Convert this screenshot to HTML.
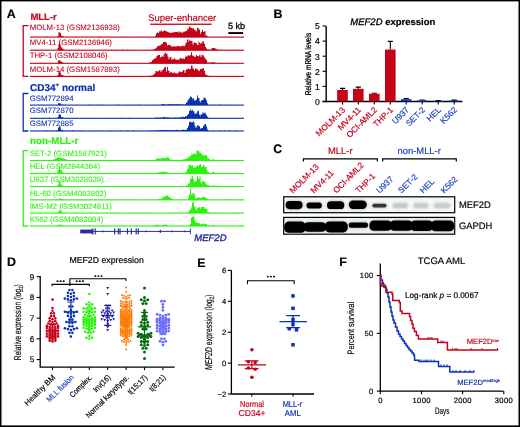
<!DOCTYPE html>
<html><head><meta charset="utf-8"><style>
html,body{margin:0;padding:0;background:#fff;}
svg{display:block;font-family:"Liberation Sans", sans-serif;will-change:transform;text-rendering:geometricPrecision;}
</style></head><body>
<svg width="520" height="427" viewBox="0 0 520 427" font-family='"Liberation Sans", sans-serif'>
<rect x="0" y="0" width="520" height="427" fill="#000"/>
<rect x="1.5" y="1.4" width="517" height="424" fill="#fff"/>
<text x="6.8" y="17.8" font-size="12.4" fill="#000" stroke="#000" stroke-width="0.18" font-weight="bold" font-style="normal" text-anchor="start" >A</text>
<text x="30.4" y="20.4" font-size="9.5" fill="#c5021a" stroke="#c5021a" stroke-width="0.18" font-weight="bold" font-style="normal" text-anchor="start" >MLL-r</text>
<text x="30.0" y="91.0" font-size="10" fill="#0b30b0" stroke="#0b30b0" stroke-width="0.18" font-weight="bold" font-style="normal" text-anchor="start" >CD34<tspan font-size="6.2" dy="-3.6">+</tspan><tspan dy="3.6"> normal</tspan></text>
<text x="30.0" y="143.9" font-size="9.8" fill="#2cf210" stroke="#2cf210" stroke-width="0.18" font-weight="bold" font-style="normal" text-anchor="start" >non-MLL-r</text>
<path d="M30,37.1 H30.0 V37.03 H30.5 V37.04 H31.5 V37.08 H32.5 V36.99 H34.0 V36.71 H35.0 V36.97 H36.0 V37.02 H37.0 V36.75 H38.0 V37.03 H39.0 V37.07 H39.5 V37.06 H40.5 V37.07 H41.5 V37.09 H43.0 V37.08 H44.0 V37.07 H45.0 V37.00 H45.5 V37.00 H46.0 V36.67 H47.0 V36.75 H48.0 V36.98 H48.5 V37.05 H49.5 V37.02 H51.0 V37.08 H52.0 V36.96 H52.5 V37.04 H53.5 V37.00 H54.5 V36.96 H55.0 V36.92 H55.5 V36.71 H56.5 V36.98 H57.5 V36.21 H58.5 V32.21 H60.0 V33.05 H61.0 V35.86 H62.5 V36.34 H63.0 V36.55 H64.0 V37.00 H65.5 V37.05 H66.5 V36.98 H68.0 V37.02 H69.5 V37.06 H70.5 V37.02 H71.0 V37.05 H72.5 V37.00 H73.5 V37.09 H74.5 V37.07 H75.0 V36.83 H76.5 V37.08 H77.5 V36.98 H78.5 V37.04 H79.5 V37.01 H81.0 V36.94 H82.0 V36.83 H82.5 V37.02 H84.0 V37.00 H84.5 V36.94 H85.0 V37.02 H86.5 V37.06 H87.5 V37.07 H89.0 V37.06 H90.5 V37.05 H91.5 V37.09 H93.0 V37.05 H94.0 V36.98 H95.0 V37.01 H95.5 V36.95 H96.5 V36.92 H97.5 V37.02 H98.5 V36.85 H99.5 V36.76 H100.0 V36.84 H101.5 V37.00 H103.0 V36.95 H103.5 V37.00 H104.5 V37.02 H105.5 V36.94 H106.0 V36.81 H107.5 V36.74 H108.5 V37.10 H109.5 V36.90 H110.5 V36.68 H111.5 V37.03 H113.0 V37.08 H114.5 V37.06 H116.0 V37.06 H117.5 V36.71 H118.5 V36.98 H119.5 V36.98 H120.5 V36.67 H121.0 V37.02 H122.0 V37.06 H123.0 V36.76 H123.5 V37.01 H124.0 V36.74 H125.0 V37.06 H126.5 V36.70 H127.0 V36.81 H128.5 V37.05 H130.0 V36.91 H130.5 V37.04 H131.5 V36.69 H132.0 V37.04 H133.5 V36.98 H134.0 V37.09 H135.5 V36.69 H137.0 V37.07 H138.0 V37.03 H139.0 V36.73 H139.5 V37.05 H140.0 V37.06 H141.0 V37.08 H142.5 V36.67 H143.5 V36.99 H144.5 V37.01 H146.0 V37.09 H147.0 V37.01 H147.5 V36.93 H148.5 V37.01 H149.0 V36.99 H150.0 V36.93 H151.0 V37.08 H152.5 V37.04 H154.0 V37.08 H155.0 V35.81 H156.0 V33.84 H156.5 V32.98 H157.0 V31.88 H157.5 V33.02 H159.0 V31.09 H159.5 V31.69 H160.5 V30.29 H161.5 V30.94 H162.0 V31.69 H163.0 V31.01 H164.0 V30.53 H165.5 V30.88 H166.5 V31.63 H168.0 V32.30 H169.0 V32.47 H169.5 V32.84 H170.0 V32.70 H171.5 V32.87 H172.0 V32.57 H173.5 V32.24 H175.0 V31.98 H176.0 V32.02 H177.5 V31.55 H178.5 V32.85 H179.5 V31.56 H180.5 V32.34 H181.5 V32.66 H182.5 V32.39 H183.0 V32.25 H183.5 V31.51 H184.0 V31.96 H184.5 V31.25 H186.0 V30.82 H187.0 V30.29 H187.5 V28.58 H189.0 V26.53 H190.5 V28.11 H192.0 V28.60 H193.5 V28.06 H194.0 V29.79 H195.5 V30.74 H196.5 V31.81 H197.0 V27.79 H198.0 V27.82 H198.5 V29.60 H200.0 V33.65 H201.0 V31.97 H202.0 V29.65 H203.0 V31.88 H204.0 V31.33 H205.5 V35.56 H207.0 V36.30 H208.0 V37.09 H209.5 V36.88 H210.5 V36.99 H212.0 V37.03 H213.0 V36.99 H213.5 V36.98 H214.5 V36.81 H215.0 V36.99 H216.0 V37.02 H217.0 V37.07 H218.5 V37.01 H219.5 V37.02 H220.5 V37.04 H221.0 V36.78 H222.0 V36.99 H222.5 V36.88 H223.5 V37.04 H224.5 V36.87 H226.0 V37.01 H227.5 V36.77 H228.5 V36.78 H229.5 V37.04 H230.5 V36.70 H231.5 V36.99 H232.5 V36.99 H234.0 V37.04 H234.5 V37.09 H235.5 V36.80 H236.0 V36.99 H237.0 V37.00 H238.5 V37.09 H239.0 V37.04 H240.5 V37.03 H241.5 V37.04 H242.5 V36.70 H243.5 V37.02 H244 V37.1 Z" fill="#c5021a"/>
<rect x="30" y="36.550000000000004" width="214" height="1.1" fill="#c5021a"/>
<text x="29.7" y="30.1" font-size="7.8" fill="#c5021a" stroke="#c5021a" stroke-width="0.08" font-weight="normal" font-style="normal" text-anchor="start" >MOLM-13 (GSM2136938)</text>
<path d="M30,50.2 H30.0 V50.10 H31.5 V50.10 H33.0 V49.97 H34.0 V50.06 H35.0 V50.09 H35.5 V50.15 H36.0 V50.13 H37.5 V50.10 H38.5 V50.11 H39.0 V50.11 H40.0 V50.10 H41.0 V50.14 H42.0 V50.17 H42.5 V50.16 H43.0 V50.20 H44.0 V50.10 H44.5 V50.19 H46.0 V49.78 H46.5 V50.08 H47.0 V50.13 H48.5 V50.17 H49.5 V50.19 H50.0 V50.19 H51.5 V50.20 H52.5 V50.18 H54.0 V50.18 H55.0 V50.15 H56.0 V50.17 H57.5 V47.66 H58.5 V44.22 H59.0 V43.10 H59.5 V41.29 H60.0 V44.34 H60.5 V45.87 H61.0 V47.59 H62.5 V49.01 H63.5 V49.50 H64.5 V50.15 H65.5 V50.15 H67.0 V49.97 H67.5 V49.88 H68.5 V50.09 H69.5 V50.12 H71.0 V49.98 H71.5 V49.79 H72.0 V50.19 H73.0 V50.19 H74.5 V49.96 H75.5 V50.14 H76.5 V50.12 H78.0 V50.09 H79.0 V50.12 H80.5 V49.91 H81.0 V50.06 H82.5 V50.19 H83.5 V50.09 H84.5 V50.09 H85.5 V49.99 H86.5 V50.15 H87.0 V50.13 H87.5 V50.19 H89.0 V49.91 H89.5 V50.11 H90.5 V50.12 H92.0 V50.10 H93.5 V50.14 H94.0 V50.14 H95.0 V50.19 H96.0 V50.19 H97.5 V49.92 H98.5 V50.16 H99.5 V50.17 H101.0 V50.18 H102.5 V50.11 H104.0 V50.15 H105.0 V50.14 H106.0 V50.10 H107.0 V50.17 H107.5 V49.99 H108.5 V50.15 H109.5 V50.11 H111.0 V49.83 H112.5 V50.20 H113.5 V50.16 H114.5 V50.15 H115.0 V49.83 H116.0 V50.10 H117.0 V50.12 H117.5 V50.12 H118.5 V50.17 H119.5 V50.14 H120.0 V50.08 H120.5 V50.09 H121.5 V49.84 H122.5 V49.78 H123.5 V50.00 H125.0 V49.94 H125.5 V50.12 H126.5 V49.81 H127.5 V49.80 H128.0 V50.14 H128.5 V49.88 H129.5 V50.16 H130.0 V50.01 H131.5 V50.20 H132.5 V50.20 H133.0 V50.09 H134.0 V49.97 H135.5 V50.14 H137.0 V50.15 H137.5 V50.13 H138.5 V50.10 H139.5 V50.03 H140.5 V50.14 H141.5 V50.18 H142.5 V50.13 H143.0 V50.19 H143.5 V50.08 H145.0 V50.12 H145.5 V50.14 H146.0 V49.99 H147.5 V49.79 H148.5 V50.19 H150.0 V50.09 H151.5 V50.08 H152.5 V50.10 H153.0 V49.54 H154.0 V49.10 H155.5 V47.94 H156.5 V47.55 H157.0 V46.15 H158.0 V45.79 H159.0 V45.83 H160.0 V45.36 H161.0 V44.24 H162.0 V43.74 H163.0 V41.90 H164.5 V41.73 H165.5 V41.73 H166.0 V42.99 H167.0 V45.52 H168.0 V45.01 H169.5 V44.67 H170.5 V46.22 H171.0 V46.12 H171.5 V46.43 H173.0 V46.21 H173.5 V46.66 H174.5 V45.97 H175.0 V46.42 H176.5 V46.13 H177.5 V46.09 H178.5 V46.11 H179.5 V46.77 H180.5 V45.64 H181.0 V46.31 H181.5 V46.08 H182.5 V45.70 H183.0 V46.84 H183.5 V44.91 H184.0 V46.64 H184.5 V45.24 H185.5 V42.76 H187.0 V39.44 H188.5 V41.90 H189.0 V40.54 H190.0 V40.75 H191.5 V41.08 H192.5 V44.52 H193.5 V42.51 H194.5 V42.73 H196.0 V43.36 H197.0 V45.07 H198.5 V40.81 H199.0 V42.57 H200.0 V43.50 H201.5 V42.51 H202.5 V41.21 H204.0 V43.70 H205.0 V47.07 H206.0 V48.61 H207.0 V49.41 H208.0 V49.48 H209.0 V49.59 H210.0 V49.72 H211.0 V49.48 H211.5 V48.26 H212.0 V47.73 H212.5 V48.08 H213.5 V48.05 H215.0 V48.43 H215.5 V48.87 H216.5 V49.46 H217.5 V49.86 H218.5 V50.16 H219.5 V50.16 H220.0 V50.13 H220.5 V49.85 H222.0 V49.79 H222.5 V50.14 H223.0 V50.14 H224.0 V50.16 H225.0 V50.00 H225.5 V50.10 H226.5 V50.17 H227.5 V49.83 H228.5 V50.02 H229.0 V50.11 H230.5 V50.14 H231.5 V49.86 H232.5 V50.17 H233.5 V50.13 H234.0 V50.10 H234.5 V50.16 H235.0 V50.08 H235.5 V50.19 H236.0 V49.83 H237.0 V50.10 H238.5 V50.15 H239.5 V50.16 H240.5 V50.14 H241.5 V50.09 H242.0 V50.08 H243.5 V50.10 H244 V50.2 Z" fill="#c5021a"/>
<rect x="30" y="49.650000000000006" width="214" height="1.1" fill="#c5021a"/>
<text x="29.7" y="44.9" font-size="7.8" fill="#c5021a" stroke="#c5021a" stroke-width="0.08" font-weight="normal" font-style="normal" text-anchor="start" >MV4-11 (GSM2136946)</text>
<path d="M30,63.3 H30.0 V63.06 H31.5 V63.30 H32.5 V63.22 H33.5 V63.23 H35.0 V63.28 H35.5 V63.15 H37.0 V62.93 H38.0 V63.20 H38.5 V63.29 H40.0 V63.22 H40.5 V62.86 H41.5 V63.11 H43.0 V63.19 H44.0 V63.19 H45.0 V63.29 H46.0 V63.24 H47.5 V63.22 H49.0 V63.18 H49.5 V63.14 H50.5 V63.29 H52.0 V63.13 H53.0 V62.93 H54.0 V63.29 H55.5 V63.21 H57.0 V63.27 H57.5 V62.82 H58.0 V60.57 H59.0 V60.19 H60.5 V61.69 H62.0 V62.28 H63.0 V62.95 H64.0 V63.20 H65.0 V63.30 H66.0 V63.25 H66.5 V63.24 H67.5 V63.19 H68.0 V63.27 H69.0 V63.26 H70.5 V63.28 H72.0 V63.29 H73.0 V63.24 H74.0 V63.27 H75.5 V63.30 H76.5 V63.28 H77.0 V63.27 H78.0 V63.29 H79.5 V63.25 H80.5 V63.21 H81.0 V63.22 H82.0 V63.30 H83.5 V63.20 H84.5 V63.24 H85.0 V63.21 H86.5 V62.88 H87.5 V63.29 H89.0 V63.29 H90.5 V62.99 H91.5 V63.21 H92.5 V63.21 H93.5 V63.29 H95.0 V63.24 H96.5 V63.26 H97.0 V63.29 H98.0 V63.14 H99.0 V63.22 H100.0 V62.89 H101.0 V63.09 H102.0 V63.21 H103.0 V63.27 H103.5 V63.25 H105.0 V63.23 H105.5 V62.97 H106.5 V63.19 H107.5 V63.09 H108.5 V63.28 H109.5 V62.88 H110.5 V62.91 H111.5 V63.18 H112.5 V63.23 H113.0 V63.23 H114.5 V62.95 H115.5 V63.12 H117.0 V63.21 H118.0 V63.18 H119.0 V63.22 H119.5 V63.19 H120.5 V63.26 H121.5 V63.20 H122.5 V62.94 H123.5 V62.98 H124.5 V63.18 H125.5 V63.30 H126.5 V63.08 H127.0 V63.24 H128.0 V63.24 H129.0 V63.22 H130.0 V63.19 H131.5 V63.27 H132.0 V63.20 H133.0 V63.22 H133.5 V63.18 H135.0 V63.20 H136.0 V63.20 H137.0 V63.27 H138.5 V63.30 H139.0 V63.23 H139.5 V63.24 H141.0 V63.23 H142.0 V63.25 H143.0 V63.18 H144.0 V63.24 H145.0 V63.22 H146.5 V63.24 H147.0 V63.04 H148.5 V62.64 H149.5 V62.37 H151.0 V61.94 H152.0 V60.23 H153.0 V59.60 H154.0 V58.79 H155.5 V57.84 H156.5 V56.08 H157.5 V54.92 H159.0 V54.99 H160.0 V57.26 H161.5 V55.72 H162.0 V55.94 H162.5 V56.92 H163.5 V54.80 H164.5 V52.77 H166.0 V53.81 H167.5 V56.85 H168.5 V59.21 H169.5 V57.36 H170.5 V57.26 H171.5 V60.12 H172.5 V58.56 H173.0 V59.24 H174.0 V58.56 H175.5 V59.99 H176.5 V59.50 H177.5 V59.39 H178.0 V59.86 H179.5 V58.51 H180.0 V57.65 H181.0 V58.72 H182.5 V58.44 H184.0 V59.01 H185.0 V56.80 H186.0 V56.58 H187.5 V55.57 H188.5 V55.14 H189.0 V55.82 H190.0 V55.02 H191.0 V52.30 H192.0 V55.60 H193.5 V56.50 H194.5 V56.73 H196.0 V54.89 H197.0 V55.91 H198.5 V56.72 H199.0 V55.42 H199.5 V54.68 H200.5 V56.91 H201.5 V55.35 H202.5 V54.77 H203.5 V56.38 H204.5 V58.12 H205.5 V59.83 H207.0 V62.39 H208.5 V62.84 H209.5 V62.79 H210.5 V62.53 H211.5 V62.49 H212.5 V62.10 H214.0 V62.52 H215.0 V62.85 H216.0 V63.22 H217.0 V63.09 H218.0 V63.28 H219.5 V63.24 H220.0 V62.86 H221.0 V63.18 H222.5 V63.23 H223.5 V63.12 H224.5 V63.23 H225.5 V63.30 H226.0 V63.22 H227.0 V63.22 H228.0 V62.97 H228.5 V63.23 H229.5 V63.19 H230.0 V63.20 H230.5 V63.19 H231.0 V63.18 H231.5 V63.26 H232.0 V63.26 H233.0 V63.29 H234.0 V63.20 H235.0 V63.25 H235.5 V63.17 H237.0 V63.29 H238.0 V63.15 H239.0 V63.24 H240.0 V63.26 H241.0 V63.10 H241.5 V63.20 H243.0 V63.21 H244 V63.3 Z" fill="#c5021a"/>
<rect x="30" y="62.75" width="214" height="1.1" fill="#c5021a"/>
<text x="29.7" y="57.9" font-size="7.8" fill="#c5021a" stroke="#c5021a" stroke-width="0.08" font-weight="normal" font-style="normal" text-anchor="start" >THP-1 (GSM2108046)</text>
<path d="M30,76.4 H30.0 V75.99 H31.0 V76.32 H32.0 V76.38 H33.0 V76.37 H33.5 V76.34 H34.5 V76.30 H35.0 V76.30 H35.5 V76.31 H36.5 V76.37 H37.5 V76.31 H38.5 V76.29 H40.0 V76.36 H41.0 V76.33 H42.0 V76.31 H43.0 V76.32 H44.0 V76.19 H45.0 V76.34 H46.0 V76.33 H47.5 V76.38 H48.5 V76.29 H50.0 V76.21 H51.5 V76.18 H52.0 V76.38 H53.5 V76.37 H55.0 V76.02 H56.0 V76.32 H57.0 V75.53 H58.0 V74.83 H58.5 V71.06 H59.5 V71.11 H60.5 V72.98 H61.0 V74.90 H61.5 V74.94 H62.5 V75.19 H63.5 V75.98 H64.5 V76.31 H66.0 V76.08 H66.5 V76.37 H67.5 V76.14 H68.5 V76.33 H69.5 V76.24 H71.0 V76.19 H71.5 V76.33 H72.0 V76.36 H72.5 V76.33 H74.0 V76.16 H75.0 V76.38 H76.0 V76.37 H77.0 V76.37 H78.0 V76.24 H79.0 V76.33 H80.5 V76.16 H82.0 V76.39 H83.0 V76.33 H84.0 V76.29 H85.0 V75.98 H86.0 V76.04 H86.5 V76.29 H87.5 V76.29 H88.5 V76.22 H90.0 V76.29 H90.5 V76.29 H91.0 V76.36 H92.0 V76.23 H93.0 V76.39 H93.5 V76.28 H94.5 V75.96 H96.0 V76.40 H97.0 V75.95 H97.5 V76.33 H99.0 V76.40 H100.0 V76.37 H100.5 V76.37 H101.5 V76.28 H102.5 V76.38 H104.0 V76.23 H105.5 V76.40 H107.0 V76.34 H107.5 V76.14 H108.5 V75.99 H109.5 V76.06 H110.0 V76.16 H111.5 V76.12 H112.5 V76.35 H113.0 V76.39 H114.0 V76.16 H114.5 V76.29 H115.0 V76.33 H116.0 V76.17 H117.5 V75.99 H118.0 V76.30 H119.5 V76.32 H120.5 V76.34 H121.0 V76.39 H122.0 V76.34 H123.0 V76.35 H124.5 V76.34 H126.0 V76.35 H126.5 V76.10 H127.5 V76.35 H128.5 V76.29 H129.0 V76.31 H130.0 V76.18 H131.5 V76.30 H132.0 V76.28 H133.0 V76.33 H134.0 V75.96 H134.5 V76.32 H135.0 V76.32 H135.5 V76.39 H136.5 V76.30 H137.5 V76.31 H138.5 V76.30 H139.0 V76.24 H140.0 V76.34 H140.5 V76.05 H141.5 V76.37 H142.5 V76.31 H143.5 V76.37 H145.0 V76.11 H146.0 V76.35 H147.0 V75.95 H148.0 V76.18 H149.0 V75.87 H149.5 V75.69 H151.0 V75.86 H152.5 V74.79 H154.0 V73.78 H155.0 V73.19 H155.5 V70.93 H157.0 V71.57 H158.0 V71.21 H159.0 V70.27 H160.5 V72.36 H161.5 V70.21 H163.0 V69.26 H164.0 V67.95 H164.5 V66.94 H166.0 V71.48 H167.0 V66.92 H168.0 V70.77 H169.5 V73.09 H170.5 V72.00 H172.0 V73.36 H173.5 V72.61 H175.0 V73.25 H176.5 V73.38 H178.0 V73.30 H178.5 V71.42 H179.5 V71.48 H180.5 V72.29 H181.5 V72.11 H182.5 V70.89 H183.0 V70.02 H184.5 V73.01 H185.5 V70.41 H186.0 V69.59 H186.5 V69.17 H188.0 V68.37 H189.0 V69.19 H189.5 V69.00 H191.0 V65.40 H192.5 V68.51 H194.0 V70.28 H195.0 V68.58 H196.0 V68.22 H196.5 V69.21 H197.5 V69.67 H198.5 V71.17 H199.0 V70.71 H200.0 V68.99 H201.0 V69.37 H201.5 V68.78 H202.5 V68.31 H204.0 V70.72 H205.0 V73.82 H205.5 V74.76 H207.0 V75.44 H208.5 V75.98 H209.5 V76.14 H211.0 V76.35 H212.0 V75.97 H213.0 V76.34 H213.5 V76.31 H214.0 V76.21 H215.5 V76.33 H217.0 V76.32 H218.0 V76.07 H219.0 V76.36 H220.5 V76.30 H221.5 V76.33 H222.5 V76.32 H224.0 V75.99 H224.5 V76.39 H225.5 V76.21 H226.5 V76.36 H228.0 V76.21 H229.0 V76.39 H230.0 V76.31 H231.0 V76.10 H232.0 V76.31 H233.0 V76.09 H234.0 V76.35 H235.5 V76.14 H237.0 V76.05 H238.0 V76.39 H239.5 V76.39 H240.5 V76.36 H241.0 V76.35 H242.5 V76.30 H243.5 V76.30 H244 V76.4 Z" fill="#c5021a"/>
<rect x="30" y="75.85000000000001" width="214" height="1.1" fill="#c5021a"/>
<text x="29.7" y="72.0" font-size="7.8" fill="#c5021a" stroke="#c5021a" stroke-width="0.08" font-weight="normal" font-style="normal" text-anchor="start" >MOLM-14 (GSM1587893)</text>
<path d="M30,105.1 H30.0 V104.81 H31.0 V105.03 H31.5 V104.92 H32.5 V104.96 H33.0 V105.08 H34.5 V105.06 H35.5 V105.08 H37.0 V105.06 H38.0 V104.76 H39.0 V105.08 H40.0 V105.07 H40.5 V105.07 H41.5 V104.74 H42.5 V104.79 H43.5 V105.05 H44.5 V105.07 H45.5 V104.92 H47.0 V104.98 H47.5 V105.05 H49.0 V105.05 H49.5 V105.09 H50.5 V104.81 H51.5 V105.05 H52.5 V105.01 H54.0 V105.08 H54.5 V105.10 H56.0 V104.98 H56.5 V105.01 H57.0 V105.08 H57.5 V104.38 H58.0 V103.18 H59.0 V103.02 H59.5 V103.20 H60.5 V104.35 H61.5 V104.54 H62.5 V104.73 H63.0 V104.86 H64.0 V105.07 H64.5 V104.66 H66.0 V104.99 H67.5 V104.89 H68.0 V105.04 H68.5 V105.08 H69.5 V104.98 H70.5 V105.10 H71.0 V105.05 H72.0 V105.06 H72.5 V105.00 H73.5 V105.05 H74.5 V105.10 H76.0 V104.71 H77.5 V105.01 H78.5 V105.06 H80.0 V105.06 H81.0 V105.06 H81.5 V105.03 H82.0 V105.10 H83.0 V105.03 H84.0 V105.05 H85.0 V105.02 H86.5 V105.02 H87.5 V105.01 H88.5 V104.77 H90.0 V105.00 H91.5 V104.72 H93.0 V105.02 H94.0 V105.02 H95.0 V105.02 H95.5 V105.00 H96.5 V105.02 H97.5 V104.70 H98.5 V105.08 H99.0 V104.75 H100.0 V104.98 H101.0 V104.65 H101.5 V105.08 H103.0 V104.71 H104.5 V105.08 H105.0 V105.05 H106.0 V105.02 H107.0 V105.08 H108.5 V105.01 H109.5 V105.00 H111.0 V105.09 H112.0 V105.00 H113.0 V105.00 H114.0 V104.98 H115.0 V104.87 H116.5 V105.06 H117.5 V104.95 H118.5 V104.87 H120.0 V105.08 H121.0 V104.97 H121.5 V105.09 H123.0 V104.99 H124.0 V104.99 H125.5 V105.08 H126.0 V105.09 H127.0 V104.67 H128.0 V104.85 H129.0 V105.01 H130.5 V105.05 H131.5 V104.70 H132.0 V104.96 H133.0 V104.99 H134.5 V105.06 H135.0 V105.01 H135.5 V104.81 H136.5 V105.09 H138.0 V104.68 H139.0 V104.76 H140.5 V105.00 H142.0 V104.90 H143.0 V105.09 H144.0 V105.08 H144.5 V104.97 H145.5 V105.00 H146.0 V105.02 H147.5 V105.03 H149.0 V104.68 H150.0 V105.06 H150.5 V105.03 H152.0 V104.70 H153.0 V105.08 H154.0 V105.08 H155.0 V105.09 H155.5 V104.99 H156.5 V104.76 H157.5 V105.09 H158.0 V104.97 H158.5 V105.01 H160.0 V104.93 H160.5 V104.76 H161.0 V104.39 H162.0 V104.27 H162.5 V103.94 H164.0 V104.36 H164.5 V104.45 H165.0 V104.47 H166.0 V104.63 H166.5 V104.47 H167.0 V104.48 H167.5 V104.14 H168.5 V104.30 H169.0 V104.18 H170.0 V104.12 H170.5 V104.36 H172.0 V104.30 H173.0 V104.37 H174.0 V104.41 H175.0 V104.37 H176.5 V104.17 H178.0 V104.21 H178.5 V104.34 H179.5 V104.13 H180.5 V104.38 H181.5 V104.72 H182.0 V104.62 H182.5 V104.20 H183.5 V104.39 H185.0 V104.14 H186.0 V102.52 H187.5 V100.18 H188.5 V98.84 H189.5 V98.04 H190.0 V95.69 H190.5 V96.95 H192.0 V99.13 H192.5 V98.35 H194.0 V100.55 H195.0 V100.35 H196.5 V98.97 H197.0 V95.59 H198.0 V97.89 H199.5 V101.21 H200.5 V103.12 H201.0 V100.60 H202.0 V100.04 H203.5 V97.52 H204.5 V98.37 H206.0 V100.51 H207.0 V103.37 H208.0 V104.77 H208.5 V104.86 H209.0 V105.00 H210.5 V104.80 H211.5 V105.07 H212.5 V105.07 H214.0 V104.81 H215.0 V105.09 H216.5 V105.05 H217.0 V105.04 H218.5 V104.87 H219.5 V104.66 H220.5 V105.07 H221.0 V104.70 H222.5 V105.08 H223.5 V105.05 H224.5 V104.91 H225.5 V104.71 H226.5 V104.99 H228.0 V104.69 H228.5 V105.04 H229.5 V104.73 H230.0 V104.99 H231.5 V105.02 H232.0 V105.09 H233.5 V105.08 H235.0 V105.01 H236.5 V104.70 H237.5 V105.06 H238.5 V105.01 H239.5 V105.00 H240.5 V105.08 H241.5 V104.66 H242.0 V105.01 H243.5 V105.04 H244 V105.1 Z" fill="#0b30b0"/>
<rect x="30" y="104.55" width="214" height="1.1" fill="#0b30b0"/>
<text x="29.7" y="100.6" font-size="7.8" fill="#0b30b0" stroke="#0b30b0" stroke-width="0.08" font-weight="normal" font-style="normal" text-anchor="start" >GSM772894</text>
<path d="M30,118.3 H30.0 V118.25 H31.0 V118.27 H32.0 V118.24 H33.5 V118.30 H34.5 V117.94 H36.0 V118.22 H37.0 V118.21 H38.5 V118.30 H40.0 V118.22 H41.0 V117.97 H42.0 V117.88 H42.5 V117.97 H44.0 V118.28 H45.5 V118.20 H46.0 V118.27 H46.5 V118.09 H47.0 V117.88 H48.5 V117.87 H50.0 V118.08 H51.5 V118.26 H52.5 V118.27 H54.0 V118.26 H55.0 V118.22 H55.5 V118.26 H56.5 V118.22 H57.5 V117.12 H58.5 V114.49 H59.5 V113.93 H60.0 V114.68 H61.0 V117.07 H62.5 V117.58 H63.5 V117.99 H64.5 V118.15 H66.0 V118.21 H67.0 V118.24 H68.5 V118.20 H70.0 V118.19 H71.0 V118.19 H72.5 V118.06 H74.0 V117.98 H75.0 V118.19 H76.5 V118.15 H77.0 V118.23 H78.0 V118.21 H79.0 V118.26 H80.0 V118.01 H80.5 V118.25 H81.5 V118.06 H82.5 V117.90 H83.5 V117.91 H84.5 V118.23 H85.5 V118.24 H86.0 V118.30 H86.5 V118.25 H88.0 V118.27 H89.0 V118.27 H90.0 V117.89 H91.0 V118.20 H92.0 V118.29 H93.5 V118.21 H94.0 V118.02 H95.0 V117.93 H96.0 V118.16 H97.0 V118.27 H98.5 V118.20 H99.0 V118.19 H100.5 V118.24 H102.0 V118.29 H103.5 V118.18 H105.0 V118.25 H106.5 V118.15 H107.5 V118.18 H108.5 V118.22 H109.0 V118.19 H110.0 V118.21 H111.5 V117.89 H112.5 V118.13 H114.0 V118.21 H114.5 V118.29 H116.0 V118.16 H117.0 V118.24 H118.5 V118.28 H119.0 V118.15 H120.5 V117.87 H121.5 V118.19 H122.5 V118.24 H123.5 V118.27 H124.5 V118.12 H126.0 V118.23 H127.5 V118.22 H128.5 V117.86 H129.5 V117.94 H130.5 V118.07 H131.5 V118.10 H132.0 V118.30 H133.5 V118.16 H134.5 V118.30 H136.0 V117.94 H137.0 V118.29 H138.5 V118.19 H139.5 V117.94 H140.5 V118.30 H142.0 V117.90 H142.5 V118.08 H143.5 V118.20 H145.0 V118.23 H146.0 V118.02 H147.0 V118.28 H147.5 V118.28 H148.0 V118.23 H149.0 V117.91 H150.5 V118.13 H152.0 V118.07 H153.0 V118.00 H154.0 V117.93 H154.5 V117.93 H155.0 V117.77 H156.0 V117.47 H157.5 V117.74 H158.0 V117.68 H159.0 V117.68 H159.5 V117.57 H161.0 V117.63 H161.5 V117.53 H162.5 V117.14 H163.5 V117.08 H165.0 V117.41 H166.0 V117.47 H167.0 V117.25 H168.0 V117.48 H169.0 V117.56 H170.5 V117.70 H171.5 V117.71 H172.5 V117.49 H173.0 V117.67 H174.5 V117.55 H175.5 V117.50 H177.0 V117.65 H177.5 V117.66 H178.0 V117.46 H179.5 V117.32 H180.5 V117.33 H181.0 V117.33 H182.5 V116.70 H184.0 V116.93 H185.0 V116.37 H186.5 V116.13 H187.0 V115.34 H187.5 V115.08 H188.0 V113.89 H189.0 V110.96 H190.0 V108.40 H190.5 V110.55 H191.5 V110.52 H192.5 V109.62 H193.0 V111.13 H194.5 V113.79 H195.0 V113.79 H196.5 V112.57 H197.5 V110.71 H199.0 V115.11 H199.5 V114.51 H200.5 V116.16 H201.0 V114.25 H202.0 V114.15 H202.5 V112.36 H203.5 V113.48 H204.0 V113.24 H204.5 V112.81 H205.5 V113.86 H206.0 V115.29 H207.0 V116.68 H208.0 V117.80 H209.0 V118.25 H210.5 V118.17 H211.5 V118.20 H212.0 V118.28 H213.0 V118.18 H214.0 V118.29 H215.5 V118.29 H217.0 V117.90 H218.5 V118.02 H219.5 V118.21 H220.5 V118.28 H221.0 V118.23 H221.5 V117.95 H222.5 V118.14 H224.0 V117.98 H225.5 V118.24 H226.5 V117.89 H227.5 V117.96 H228.5 V118.27 H229.0 V118.13 H230.0 V118.30 H231.0 V118.27 H232.0 V118.20 H233.0 V118.18 H234.0 V118.22 H235.5 V118.22 H236.5 V117.88 H238.0 V118.29 H239.0 V118.28 H239.5 V118.29 H240.0 V118.07 H241.0 V118.20 H242.0 V118.25 H243.0 V118.30 H243.5 V118.18 H244 V118.3 Z" fill="#0b30b0"/>
<rect x="30" y="117.75" width="214" height="1.1" fill="#0b30b0"/>
<text x="29.7" y="113.1" font-size="7.8" fill="#0b30b0" stroke="#0b30b0" stroke-width="0.08" font-weight="normal" font-style="normal" text-anchor="start" >GSM772870</text>
<path d="M30,131.0 H30.0 V130.72 H31.0 V130.95 H32.5 V130.99 H33.5 V130.96 H34.5 V130.92 H35.5 V130.99 H37.0 V130.96 H37.5 V130.95 H38.5 V130.93 H39.0 V130.82 H40.0 V130.88 H41.0 V130.96 H42.0 V130.97 H42.5 V130.95 H43.5 V130.83 H44.5 V130.73 H45.0 V130.89 H46.5 V130.55 H48.0 V130.65 H49.0 V130.89 H49.5 V130.99 H50.5 V130.75 H51.5 V130.59 H52.5 V130.99 H53.5 V130.92 H54.5 V130.99 H55.5 V130.90 H56.5 V130.36 H58.0 V127.56 H59.0 V126.18 H60.5 V128.64 H61.0 V130.28 H61.5 V130.08 H62.0 V130.08 H63.0 V130.51 H63.5 V130.76 H65.0 V130.93 H66.0 V130.99 H67.0 V130.83 H68.0 V130.66 H68.5 V130.69 H70.0 V130.97 H71.5 V130.58 H72.5 V130.57 H73.5 V130.78 H74.5 V130.78 H75.5 V130.65 H76.0 V130.88 H77.0 V130.95 H78.0 V130.61 H79.0 V130.93 H79.5 V130.64 H80.0 V130.62 H81.0 V130.88 H82.0 V130.64 H83.0 V130.90 H84.5 V130.96 H85.5 V130.70 H86.0 V130.99 H87.0 V130.98 H88.5 V130.84 H89.5 V130.91 H90.0 V130.77 H90.5 V130.90 H91.0 V130.89 H91.5 V130.89 H92.5 V130.94 H94.0 V130.70 H95.0 V130.90 H95.5 V131.00 H96.5 V130.58 H97.5 V130.89 H98.5 V130.80 H99.0 V130.98 H100.0 V130.96 H101.0 V130.76 H102.5 V130.94 H103.5 V130.97 H104.5 V130.91 H105.5 V130.97 H106.5 V130.99 H107.5 V130.93 H109.0 V130.85 H110.5 V130.70 H112.0 V130.94 H113.5 V130.90 H115.0 V130.87 H116.5 V130.99 H117.0 V130.99 H118.5 V130.97 H120.0 V130.59 H121.0 V130.93 H122.0 V130.96 H123.0 V130.91 H124.5 V130.95 H126.0 V130.61 H127.5 V130.76 H128.5 V130.93 H129.5 V130.97 H130.5 V130.96 H132.0 V130.97 H132.5 V130.57 H134.0 V130.73 H135.0 V130.99 H136.0 V130.95 H137.0 V130.93 H138.0 V130.58 H139.0 V130.97 H140.0 V130.98 H140.5 V130.92 H141.0 V130.96 H142.5 V130.92 H143.5 V130.96 H144.0 V130.94 H144.5 V130.96 H146.0 V130.99 H147.5 V130.74 H149.0 V130.59 H150.0 V130.80 H151.5 V130.83 H152.5 V130.77 H153.0 V130.78 H153.5 V130.57 H155.0 V130.52 H156.0 V130.24 H156.5 V130.53 H157.5 V130.48 H158.5 V130.27 H159.0 V130.35 H160.5 V130.31 H161.5 V130.22 H162.0 V130.12 H163.0 V130.19 H163.5 V130.25 H164.5 V130.09 H166.0 V130.10 H167.5 V130.26 H168.5 V130.17 H170.0 V130.29 H170.5 V130.31 H172.0 V130.39 H173.0 V130.03 H174.5 V130.33 H175.5 V130.24 H176.5 V129.87 H177.5 V130.22 H178.0 V130.15 H179.0 V130.14 H180.0 V130.39 H180.5 V130.01 H182.0 V129.75 H182.5 V129.82 H184.0 V129.92 H185.0 V129.92 H185.5 V129.49 H186.5 V129.71 H187.0 V127.98 H188.0 V125.63 H189.0 V121.93 H189.5 V121.59 H190.5 V122.17 H191.5 V122.15 H193.0 V120.38 H193.5 V122.29 H194.5 V125.74 H195.5 V128.17 H196.0 V127.28 H197.0 V125.19 H198.5 V126.35 H200.0 V128.49 H201.5 V127.97 H203.0 V125.83 H204.5 V123.93 H206.0 V125.23 H206.5 V127.02 H207.0 V128.50 H207.5 V130.06 H208.0 V130.43 H209.0 V130.99 H209.5 V130.91 H211.0 V130.90 H212.0 V130.99 H212.5 V130.82 H213.5 V130.91 H214.5 V130.90 H215.0 V130.98 H216.0 V130.93 H217.0 V130.80 H218.0 V130.96 H218.5 V130.72 H219.5 V130.58 H220.5 V130.70 H221.0 V130.89 H222.0 V130.96 H223.0 V130.99 H224.0 V130.57 H225.5 V130.96 H227.0 V130.91 H228.0 V130.89 H228.5 V130.66 H229.5 V130.60 H231.0 V130.93 H232.5 V130.93 H233.5 V130.93 H234.0 V130.95 H235.0 V130.61 H236.5 V130.99 H238.0 V130.92 H239.0 V130.98 H240.0 V130.91 H241.0 V130.89 H242.0 V130.99 H243.5 V130.92 H244 V131.0 Z" fill="#0b30b0"/>
<rect x="30" y="130.45" width="214" height="1.1" fill="#0b30b0"/>
<text x="29.7" y="126.0" font-size="7.8" fill="#0b30b0" stroke="#0b30b0" stroke-width="0.08" font-weight="normal" font-style="normal" text-anchor="start" >GSM772885</text>
<path d="M30,160.5 H30.0 V160.43 H31.0 V160.49 H32.0 V160.38 H33.5 V160.26 H35.0 V160.05 H36.0 V160.42 H37.5 V160.47 H38.0 V160.43 H39.0 V160.39 H40.0 V160.39 H40.5 V160.39 H41.5 V160.48 H42.5 V160.49 H43.5 V160.21 H44.5 V160.44 H46.0 V160.49 H47.0 V160.44 H47.5 V160.38 H49.0 V160.40 H50.0 V160.47 H51.0 V160.39 H52.0 V160.45 H53.0 V159.44 H54.5 V158.72 H56.0 V158.28 H57.0 V157.96 H57.5 V157.57 H58.5 V157.53 H59.0 V157.61 H60.5 V158.54 H61.5 V157.80 H62.5 V158.42 H64.0 V158.67 H64.5 V158.76 H65.0 V159.25 H66.5 V160.18 H68.0 V160.32 H69.0 V160.17 H70.0 V160.42 H70.5 V160.19 H71.5 V160.41 H72.5 V160.46 H73.5 V160.40 H74.5 V160.44 H75.5 V160.27 H76.5 V160.31 H77.5 V160.13 H78.5 V160.32 H79.5 V160.49 H80.5 V160.45 H81.5 V160.44 H83.0 V160.25 H83.5 V160.48 H85.0 V160.28 H85.5 V160.15 H86.5 V160.30 H87.5 V160.45 H89.0 V160.48 H90.0 V160.36 H90.5 V160.23 H91.5 V160.39 H92.5 V160.12 H93.5 V160.42 H94.0 V160.40 H94.5 V160.45 H95.5 V160.45 H96.5 V160.48 H98.0 V160.39 H99.0 V160.12 H99.5 V160.46 H100.5 V160.41 H102.0 V160.41 H103.0 V160.46 H104.0 V160.49 H105.0 V160.27 H105.5 V160.41 H107.0 V160.43 H108.0 V160.42 H109.0 V160.48 H109.5 V160.49 H110.5 V160.40 H112.0 V160.15 H113.0 V160.39 H114.0 V160.05 H115.0 V160.48 H116.0 V160.09 H116.5 V160.46 H117.5 V160.38 H118.5 V160.07 H119.0 V160.43 H120.0 V160.50 H121.0 V160.18 H122.5 V160.38 H124.0 V160.43 H125.0 V160.41 H125.5 V160.42 H126.5 V160.45 H127.0 V160.40 H128.0 V160.44 H128.5 V160.45 H129.0 V160.43 H129.5 V160.31 H130.5 V160.45 H131.0 V160.30 H132.5 V160.46 H133.5 V160.19 H135.0 V160.49 H135.5 V160.40 H136.5 V160.41 H137.5 V160.40 H139.0 V160.38 H139.5 V160.32 H141.0 V160.07 H142.5 V160.16 H144.0 V160.39 H145.0 V160.45 H146.5 V160.50 H147.0 V160.30 H148.5 V160.17 H149.5 V160.47 H150.5 V160.39 H151.5 V160.42 H152.5 V160.35 H154.0 V160.03 H155.5 V159.35 H156.0 V158.85 H157.0 V158.48 H157.5 V158.55 H158.5 V158.63 H159.0 V158.33 H159.5 V158.57 H161.0 V158.30 H162.5 V158.17 H163.0 V157.68 H164.0 V158.58 H164.5 V158.34 H166.0 V157.74 H167.5 V156.55 H168.5 V157.98 H169.5 V159.25 H170.0 V159.41 H171.5 V159.86 H173.0 V160.44 H174.5 V160.46 H176.0 V160.44 H177.0 V160.37 H178.0 V160.41 H179.0 V160.40 H180.0 V160.33 H180.5 V160.25 H181.5 V159.90 H182.5 V159.56 H183.5 V159.21 H184.5 V159.25 H185.5 V158.81 H186.5 V158.50 H187.5 V157.73 H188.5 V156.87 H189.5 V157.07 H190.0 V155.51 H191.0 V155.56 H191.5 V152.74 H192.0 V155.09 H192.5 V153.98 H193.0 V153.41 H194.0 V154.11 H195.0 V153.71 H195.5 V153.15 H196.0 V154.28 H196.5 V150.57 H198.0 V151.22 H199.5 V152.75 H201.0 V153.96 H202.0 V155.23 H202.5 V154.66 H203.5 V155.41 H205.0 V154.72 H206.5 V156.23 H207.5 V158.68 H208.0 V158.16 H209.5 V159.79 H211.0 V159.83 H212.0 V159.43 H213.0 V159.14 H214.0 V159.97 H215.0 V160.45 H216.0 V160.43 H217.0 V160.42 H218.0 V160.50 H219.0 V160.42 H220.0 V160.09 H221.0 V159.65 H222.0 V159.65 H223.0 V160.05 H224.0 V160.40 H225.5 V160.29 H226.5 V160.21 H227.5 V160.09 H228.5 V160.09 H230.0 V160.49 H231.5 V160.46 H232.5 V160.39 H234.0 V160.47 H235.5 V160.45 H236.0 V160.42 H237.5 V160.36 H239.0 V160.50 H239.5 V160.38 H240.5 V160.45 H241.5 V160.46 H242.0 V160.18 H243.0 V160.21 H243.5 V160.45 H244 V160.5 Z" fill="#2cf210"/>
<rect x="30" y="159.95" width="214" height="1.1" fill="#2cf210"/>
<text x="29.7" y="155.8" font-size="7.8" fill="#2cf210" stroke="#2cf210" stroke-width="0.08" font-weight="normal" font-style="normal" text-anchor="start" >SET-2 (GSM1587921)</text>
<path d="M30,173.6 H30.0 V173.51 H30.5 V173.58 H31.5 V173.51 H32.0 V173.27 H33.0 V173.36 H33.5 V173.58 H35.0 V173.25 H35.5 V173.51 H37.0 V173.17 H38.5 V173.55 H39.5 V173.50 H40.0 V173.53 H41.0 V173.27 H42.5 V173.57 H44.0 V173.58 H45.5 V173.57 H46.5 V173.42 H47.5 V173.48 H48.5 V173.56 H49.0 V173.49 H50.0 V173.51 H51.0 V173.59 H52.0 V173.46 H53.5 V173.51 H54.5 V173.51 H55.5 V173.21 H56.0 V173.58 H56.5 V173.50 H57.5 V169.68 H59.0 V167.10 H60.0 V168.98 H60.5 V170.29 H62.0 V172.29 H63.5 V173.19 H64.5 V173.21 H65.5 V173.49 H66.0 V173.50 H67.0 V173.53 H68.0 V173.51 H69.5 V173.23 H71.0 V173.54 H72.0 V173.49 H73.0 V173.58 H74.5 V173.58 H75.0 V173.46 H76.0 V173.56 H77.5 V173.57 H78.5 V173.32 H79.0 V173.51 H80.0 V173.58 H81.0 V173.51 H82.5 V173.47 H83.5 V173.50 H84.5 V173.52 H85.5 V173.52 H87.0 V173.59 H88.0 V173.39 H89.0 V173.57 H89.5 V173.56 H90.5 V173.55 H91.5 V173.54 H92.5 V173.52 H93.5 V173.19 H94.5 V173.52 H96.0 V173.43 H97.0 V173.57 H98.0 V173.34 H99.5 V173.17 H100.5 V173.55 H101.5 V173.27 H102.0 V173.58 H103.5 V173.49 H104.5 V173.55 H105.5 V173.38 H106.5 V173.54 H108.0 V173.60 H109.5 V173.15 H110.5 V173.59 H112.0 V173.56 H113.5 V173.50 H115.0 V173.50 H115.5 V173.55 H116.0 V173.17 H117.5 V173.53 H118.5 V173.58 H119.0 V173.50 H120.0 V173.54 H121.0 V173.17 H122.0 V173.50 H123.5 V173.55 H125.0 V173.50 H125.5 V173.48 H126.5 V173.59 H127.0 V173.25 H128.0 V173.37 H129.5 V173.53 H130.5 V173.58 H132.0 V173.59 H133.5 V173.22 H134.5 V173.59 H135.0 V173.53 H136.0 V173.35 H137.0 V173.53 H138.5 V173.52 H139.5 V173.16 H140.5 V173.51 H142.0 V173.48 H143.0 V173.58 H144.0 V173.54 H145.0 V173.56 H146.0 V173.26 H147.5 V173.56 H148.5 V173.51 H149.5 V173.21 H151.0 V173.49 H151.5 V173.59 H152.5 V173.50 H153.0 V173.57 H154.0 V173.56 H155.0 V173.55 H155.5 V173.42 H156.0 V173.08 H157.0 V172.80 H157.5 V172.44 H158.5 V172.54 H159.5 V172.13 H161.0 V172.00 H162.0 V171.91 H163.0 V171.87 H163.5 V172.07 H164.5 V171.86 H165.5 V172.00 H166.5 V172.45 H168.0 V172.56 H168.5 V172.94 H170.0 V173.54 H171.5 V173.37 H172.0 V173.49 H172.5 V173.55 H173.5 V173.58 H174.0 V173.29 H175.0 V173.30 H176.0 V173.48 H177.0 V173.52 H178.0 V173.42 H178.5 V173.53 H179.0 V173.37 H180.5 V173.49 H182.0 V173.43 H183.0 V173.56 H184.0 V172.89 H185.0 V173.09 H185.5 V172.05 H187.0 V168.81 H188.5 V164.64 H189.5 V164.91 H190.0 V165.22 H191.0 V166.01 H191.5 V165.34 H193.0 V167.64 H194.0 V166.19 H194.5 V167.38 H195.5 V167.47 H196.5 V165.82 H198.0 V165.74 H199.5 V164.03 H201.0 V166.89 H202.0 V166.74 H203.0 V164.23 H204.0 V166.33 H205.0 V167.09 H206.5 V170.10 H207.5 V172.07 H209.0 V173.19 H210.0 V173.15 H211.0 V173.11 H211.5 V172.80 H212.5 V171.90 H213.5 V171.88 H214.5 V173.06 H215.5 V173.51 H217.0 V173.32 H218.5 V173.51 H219.0 V173.52 H220.0 V173.56 H221.5 V173.23 H222.5 V173.56 H223.0 V173.40 H224.0 V173.54 H225.5 V173.57 H226.0 V173.48 H227.0 V173.52 H228.0 V173.50 H228.5 V173.55 H229.0 V173.56 H230.0 V173.52 H231.0 V173.51 H232.5 V173.58 H234.0 V173.57 H235.0 V173.54 H235.5 V173.27 H236.5 V173.54 H238.0 V173.52 H238.5 V173.43 H240.0 V173.51 H240.5 V173.54 H241.5 V173.30 H242.0 V173.22 H242.5 V173.50 H243.5 V173.17 H244 V173.6 Z" fill="#2cf210"/>
<rect x="30" y="173.04999999999998" width="214" height="1.1" fill="#2cf210"/>
<text x="29.7" y="169.0" font-size="7.8" fill="#2cf210" stroke="#2cf210" stroke-width="0.08" font-weight="normal" font-style="normal" text-anchor="start" >HEL (GSM2944364)</text>
<path d="M30,186.6 H30.0 V186.58 H30.5 V186.51 H31.5 V186.45 H32.0 V186.49 H32.5 V186.60 H34.0 V186.54 H35.0 V186.49 H36.0 V186.56 H37.0 V186.59 H37.5 V186.55 H38.5 V186.57 H39.0 V186.18 H40.5 V186.50 H41.5 V186.53 H42.5 V186.57 H43.0 V186.30 H44.0 V186.59 H45.0 V186.52 H46.5 V186.59 H47.5 V186.48 H48.0 V186.57 H49.0 V186.54 H49.5 V186.54 H50.5 V186.54 H51.5 V186.43 H52.5 V186.22 H53.5 V186.50 H54.5 V186.49 H55.5 V186.59 H56.0 V186.48 H56.5 V186.55 H57.5 V184.76 H58.5 V180.39 H59.5 V181.72 H60.5 V184.85 H61.5 V184.78 H62.5 V185.72 H63.5 V186.30 H64.0 V186.40 H65.0 V186.60 H66.5 V186.57 H68.0 V186.56 H68.5 V186.48 H69.0 V186.59 H70.0 V186.54 H71.0 V186.17 H71.5 V186.57 H72.0 V186.31 H73.0 V186.16 H74.0 V186.35 H75.0 V186.58 H75.5 V186.52 H76.0 V186.39 H77.0 V186.52 H78.0 V186.30 H79.0 V186.60 H80.0 V186.50 H81.5 V186.50 H82.5 V186.54 H83.5 V186.43 H84.0 V186.17 H85.5 V186.15 H86.5 V186.40 H87.5 V186.50 H88.5 V186.17 H89.5 V186.54 H90.0 V186.54 H91.5 V186.53 H93.0 V186.57 H94.5 V186.56 H95.5 V186.55 H96.0 V186.51 H97.0 V186.53 H97.5 V186.53 H98.0 V186.32 H99.0 V186.30 H100.5 V186.50 H101.0 V186.32 H101.5 V186.58 H102.5 V186.27 H103.5 V186.54 H104.0 V186.51 H105.0 V186.50 H105.5 V186.42 H106.5 V186.58 H108.0 V186.53 H109.0 V186.22 H109.5 V186.36 H110.5 V186.54 H111.5 V186.56 H113.0 V186.57 H114.5 V186.26 H116.0 V186.57 H116.5 V186.49 H117.5 V186.35 H118.0 V186.54 H118.5 V186.58 H119.0 V186.56 H119.5 V186.48 H120.0 V186.30 H121.0 V186.55 H121.5 V186.49 H122.0 V186.51 H123.0 V186.50 H124.0 V186.57 H125.5 V186.56 H126.5 V186.52 H127.5 V186.42 H129.0 V186.56 H130.0 V186.60 H131.5 V186.38 H132.0 V186.56 H132.5 V186.20 H133.5 V186.51 H135.0 V186.50 H135.5 V186.51 H137.0 V186.51 H138.5 V186.52 H140.0 V186.29 H141.5 V186.53 H142.5 V186.52 H143.0 V186.51 H143.5 V186.56 H144.5 V186.53 H145.0 V186.50 H145.5 V186.40 H146.0 V186.60 H147.0 V186.49 H148.5 V186.60 H149.5 V186.55 H151.0 V186.54 H152.0 V186.51 H153.0 V186.25 H154.5 V186.51 H155.5 V186.42 H156.0 V186.45 H157.5 V186.55 H158.5 V186.15 H159.0 V186.53 H160.5 V186.59 H162.0 V186.48 H163.5 V186.58 H164.5 V186.60 H165.5 V186.28 H166.5 V186.58 H167.5 V186.51 H168.5 V186.53 H169.5 V186.20 H170.5 V186.49 H171.0 V186.51 H172.0 V186.47 H173.0 V186.60 H174.5 V186.53 H175.0 V186.42 H176.5 V186.55 H177.5 V186.56 H178.5 V186.58 H179.5 V186.49 H180.5 V186.22 H181.5 V186.51 H183.0 V186.57 H184.0 V186.57 H185.0 V185.94 H186.0 V185.81 H186.5 V185.04 H188.0 V183.57 H189.0 V183.13 H190.0 V178.84 H191.5 V176.16 H193.0 V179.32 H194.0 V181.60 H195.0 V181.76 H196.0 V180.55 H197.0 V175.84 H198.0 V178.72 H199.5 V176.16 H200.5 V181.88 H201.0 V183.80 H201.5 V182.38 H202.0 V180.94 H203.0 V181.46 H204.0 V181.77 H205.5 V183.96 H206.5 V184.65 H207.5 V185.08 H209.0 V185.75 H210.0 V185.78 H211.0 V185.64 H212.0 V185.87 H212.5 V185.70 H213.5 V185.77 H214.0 V185.39 H215.5 V185.71 H216.0 V185.64 H216.5 V185.80 H217.0 V185.86 H218.0 V185.92 H218.5 V185.84 H219.5 V186.37 H220.5 V186.59 H221.0 V186.56 H222.0 V186.58 H222.5 V186.53 H223.5 V186.49 H224.5 V186.52 H225.5 V186.54 H227.0 V186.49 H228.5 V186.50 H229.5 V186.56 H230.0 V186.47 H231.0 V186.59 H232.0 V186.42 H233.5 V186.53 H234.5 V186.58 H235.5 V186.60 H236.0 V186.33 H237.5 V186.26 H238.5 V186.39 H240.0 V186.59 H240.5 V186.50 H241.5 V186.51 H242.5 V186.52 H244.0 V186.38 H244 V186.6 Z" fill="#2cf210"/>
<rect x="30" y="186.04999999999998" width="214" height="1.1" fill="#2cf210"/>
<text x="29.7" y="182.4" font-size="7.8" fill="#2cf210" stroke="#2cf210" stroke-width="0.08" font-weight="normal" font-style="normal" text-anchor="start" >U937 (GSM3028039)</text>
<path d="M30,199.9 H30.0 V199.80 H31.0 V199.79 H32.0 V199.79 H33.0 V199.84 H34.0 V199.60 H35.5 V199.76 H36.0 V199.81 H37.5 V199.87 H39.0 V199.82 H40.0 V199.86 H40.5 V199.78 H41.5 V199.89 H42.0 V199.84 H43.0 V199.66 H44.0 V199.85 H45.0 V199.86 H45.5 V199.86 H46.0 V199.72 H47.0 V199.81 H48.0 V199.84 H49.5 V199.85 H50.5 V199.90 H51.5 V199.55 H53.0 V199.87 H53.5 V199.80 H55.0 V199.81 H56.0 V199.86 H57.5 V199.41 H58.5 V198.52 H60.0 V198.66 H61.5 V199.09 H62.5 V199.63 H63.5 V199.70 H64.5 V199.80 H66.0 V199.83 H67.0 V199.82 H67.5 V199.86 H68.0 V199.89 H69.0 V199.82 H69.5 V199.59 H70.0 V199.78 H70.5 V199.48 H71.5 V199.86 H73.0 V199.81 H74.0 V199.87 H75.0 V199.86 H75.5 V199.78 H77.0 V199.84 H77.5 V199.86 H78.5 V199.89 H79.5 V199.85 H81.0 V199.84 H82.0 V199.82 H83.0 V199.68 H84.0 V199.82 H85.5 V199.89 H86.5 V199.74 H87.5 V199.62 H88.5 V199.83 H89.0 V199.87 H90.0 V199.72 H90.5 V199.85 H91.0 V199.79 H92.0 V199.73 H93.0 V199.88 H94.0 V199.85 H95.0 V199.84 H95.5 V199.80 H96.5 V199.73 H97.5 V199.87 H98.5 V199.85 H100.0 V199.86 H101.5 V199.80 H103.0 V199.82 H103.5 V199.88 H104.5 V199.79 H106.0 V199.85 H107.0 V199.83 H108.0 V199.85 H108.5 V199.84 H109.0 V199.86 H110.5 V199.84 H112.0 V199.46 H113.0 V199.69 H114.5 V199.90 H115.5 V199.86 H116.5 V199.79 H117.0 V199.88 H118.0 V199.70 H119.0 V199.85 H120.0 V199.87 H120.5 V199.78 H121.5 V199.87 H122.5 V199.85 H123.0 V199.58 H124.0 V199.84 H124.5 V199.85 H125.5 V199.86 H126.5 V199.84 H127.0 V199.82 H128.5 V199.86 H129.5 V199.86 H130.5 V199.83 H131.5 V199.82 H132.5 V199.56 H133.5 V199.64 H134.5 V199.47 H135.5 V199.83 H137.0 V199.83 H138.0 V199.85 H139.5 V199.80 H140.5 V199.79 H141.5 V199.90 H143.0 V199.65 H144.0 V199.86 H145.0 V199.78 H146.0 V199.87 H146.5 V199.81 H147.0 V199.89 H148.5 V199.81 H150.0 V199.54 H151.5 V199.70 H152.5 V199.79 H153.0 V199.87 H154.0 V199.86 H155.0 V199.82 H156.0 V199.84 H157.0 V199.48 H157.5 V199.63 H158.5 V199.15 H159.0 V198.65 H160.5 V198.66 H162.0 V197.66 H163.0 V196.75 H163.5 V196.61 H164.0 V197.16 H164.5 V196.47 H165.5 V196.12 H166.5 V195.04 H167.5 V196.24 H168.5 V196.93 H170.0 V198.05 H170.5 V198.31 H172.0 V199.36 H173.0 V199.51 H174.5 V199.73 H175.5 V199.81 H176.5 V199.85 H177.5 V199.59 H178.5 V199.84 H179.0 V199.81 H180.0 V199.78 H181.0 V199.82 H181.5 V199.88 H182.5 V199.80 H184.0 V199.90 H185.0 V199.83 H186.5 V199.89 H187.5 V198.85 H188.5 V197.12 H189.0 V194.41 H190.0 V189.00 H191.0 V194.38 H192.0 V193.68 H193.0 V193.26 H193.5 V193.35 H194.5 V195.56 H195.5 V198.20 H197.0 V197.41 H198.0 V197.21 H199.5 V198.28 H200.0 V198.06 H201.5 V197.61 H202.5 V197.22 H203.0 V196.54 H204.0 V197.17 H205.5 V197.97 H206.5 V198.68 H207.0 V198.95 H208.0 V199.68 H209.0 V199.79 H209.5 V199.82 H210.0 V199.85 H211.5 V199.85 H212.0 V199.88 H213.5 V199.80 H214.5 V199.88 H215.5 V199.85 H217.0 V199.88 H217.5 V199.89 H219.0 V199.86 H220.0 V199.85 H221.0 V199.88 H222.0 V199.82 H222.5 V199.49 H224.0 V199.84 H225.0 V199.87 H226.0 V199.56 H227.0 V199.87 H227.5 V199.78 H228.5 V199.47 H230.0 V199.55 H230.5 V199.46 H232.0 V199.81 H233.0 V199.54 H234.0 V199.86 H235.0 V199.73 H236.0 V199.89 H237.5 V199.48 H238.0 V199.89 H239.0 V199.82 H240.0 V199.84 H240.5 V199.51 H241.0 V199.80 H242.0 V199.84 H243.0 V199.79 H244 V199.9 Z" fill="#2cf210"/>
<rect x="30" y="199.35" width="214" height="1.1" fill="#2cf210"/>
<text x="29.7" y="195.8" font-size="7.8" fill="#2cf210" stroke="#2cf210" stroke-width="0.08" font-weight="normal" font-style="normal" text-anchor="start" >HL-60 (GSM4083802)</text>
<path d="M30,213.1 H30.0 V213.00 H31.0 V213.06 H31.5 V213.06 H32.0 V213.00 H32.5 V212.83 H33.0 V213.09 H34.0 V212.77 H34.5 V212.99 H35.0 V212.96 H36.0 V213.08 H37.0 V213.05 H38.0 V212.79 H39.5 V213.01 H40.0 V213.05 H41.5 V213.08 H42.5 V213.01 H43.5 V212.99 H44.5 V213.04 H46.0 V213.08 H47.0 V213.07 H48.0 V213.03 H49.0 V213.07 H50.0 V212.99 H51.0 V213.03 H52.0 V212.77 H53.5 V213.08 H54.5 V213.06 H55.5 V213.10 H56.5 V213.01 H57.5 V212.19 H58.5 V210.94 H59.0 V210.54 H60.0 V210.84 H61.5 V212.49 H63.0 V212.77 H64.5 V212.76 H65.5 V212.73 H67.0 V213.08 H68.5 V212.67 H69.0 V213.08 H70.0 V213.05 H71.5 V213.07 H72.5 V213.08 H73.0 V213.07 H74.0 V213.04 H74.5 V212.69 H75.5 V212.99 H76.5 V213.02 H77.5 V213.10 H78.5 V213.05 H79.5 V213.07 H81.0 V213.03 H81.5 V212.99 H83.0 V213.05 H84.0 V212.90 H84.5 V213.02 H85.0 V213.09 H86.0 V213.00 H87.5 V213.05 H88.0 V213.09 H89.0 V212.69 H90.0 V213.07 H91.0 V212.72 H92.0 V213.03 H93.5 V213.07 H94.5 V212.99 H95.5 V213.08 H96.0 V212.74 H97.0 V213.07 H97.5 V212.74 H99.0 V212.88 H100.0 V213.03 H101.0 V213.05 H102.0 V213.05 H103.0 V213.01 H104.0 V213.03 H105.5 V213.08 H106.0 V212.67 H106.5 V212.76 H107.0 V213.06 H107.5 V212.88 H108.5 V213.03 H109.5 V212.98 H110.5 V212.80 H111.5 V212.99 H112.0 V212.99 H113.0 V212.65 H113.5 V213.04 H114.5 V213.10 H115.0 V213.06 H116.0 V213.01 H116.5 V213.05 H117.0 V213.05 H118.5 V212.81 H119.0 V213.06 H120.5 V213.09 H121.5 V213.04 H122.5 V213.07 H124.0 V213.08 H125.5 V213.01 H126.0 V212.99 H126.5 V213.02 H127.5 V213.04 H128.5 V213.10 H129.5 V212.92 H130.5 V212.76 H132.0 V212.94 H133.0 V213.07 H134.0 V212.98 H135.5 V213.08 H137.0 V212.94 H137.5 V212.92 H138.5 V213.01 H140.0 V213.01 H141.0 V212.72 H142.5 V212.69 H143.5 V213.02 H144.5 V213.03 H145.5 V212.89 H147.0 V213.07 H148.5 V213.06 H149.5 V213.05 H150.5 V212.71 H151.5 V213.04 H153.0 V212.99 H154.0 V213.06 H155.0 V213.01 H156.0 V212.99 H156.5 V213.00 H157.5 V213.06 H158.0 V213.00 H159.0 V213.07 H159.5 V212.91 H160.5 V213.06 H162.0 V212.96 H162.5 V212.88 H163.5 V212.89 H164.0 V213.00 H165.0 V213.03 H166.0 V213.06 H167.0 V213.08 H168.5 V213.08 H169.5 V212.66 H170.5 V212.99 H172.0 V213.10 H173.0 V212.98 H173.5 V212.99 H174.5 V213.03 H175.0 V212.98 H176.0 V212.86 H177.0 V212.99 H178.0 V212.88 H179.0 V212.71 H180.5 V213.08 H182.0 V213.09 H183.0 V213.04 H184.0 V213.03 H184.5 V213.03 H185.5 V212.81 H186.5 V212.54 H188.0 V212.16 H189.0 V210.23 H190.5 V208.50 H191.5 V206.28 H192.0 V202.43 H193.0 V202.41 H194.0 V206.79 H195.5 V209.00 H196.5 V210.72 H197.0 V208.08 H198.0 V207.68 H199.0 V207.02 H200.0 V208.63 H201.0 V207.01 H202.5 V206.88 H203.5 V206.81 H204.5 V208.52 H206.0 V209.02 H207.5 V212.02 H209.0 V212.71 H210.5 V212.99 H211.5 V213.09 H212.5 V213.01 H214.0 V212.84 H215.0 V213.09 H216.0 V212.87 H217.0 V213.00 H218.0 V212.99 H219.5 V213.09 H220.0 V212.98 H221.0 V212.65 H221.5 V213.01 H223.0 V212.80 H224.0 V213.04 H225.5 V213.06 H227.0 V213.06 H228.0 V213.00 H228.5 V212.88 H229.5 V213.05 H231.0 V212.87 H232.5 V212.71 H233.5 V213.08 H234.0 V212.99 H235.5 V213.04 H236.5 V212.70 H237.5 V213.02 H238.0 V212.89 H238.5 V213.07 H239.0 V212.75 H240.5 V213.09 H241.5 V212.85 H242.5 V213.00 H244.0 V212.96 H244 V213.1 Z" fill="#2cf210"/>
<rect x="30" y="212.54999999999998" width="214" height="1.1" fill="#2cf210"/>
<text x="29.7" y="208.7" font-size="7.8" fill="#2cf210" stroke="#2cf210" stroke-width="0.08" font-weight="normal" font-style="normal" text-anchor="start" >IMS-M2 (GSM3024911)</text>
<path d="M30,226.0 H30.0 V225.91 H31.0 V225.57 H32.0 V225.91 H32.5 V225.90 H33.5 V225.57 H34.0 V225.78 H34.5 V225.78 H35.0 V225.85 H35.5 V225.75 H36.5 V225.99 H38.0 V225.92 H39.0 V225.90 H40.0 V225.72 H41.5 V225.73 H42.0 V225.91 H43.5 V225.93 H44.0 V225.82 H44.5 V225.92 H45.5 V225.91 H46.5 V225.90 H47.5 V225.99 H48.0 V225.98 H48.5 V225.94 H49.5 V225.94 H50.0 V225.94 H51.0 V225.90 H52.5 V225.91 H54.0 V225.98 H55.0 V225.59 H56.5 V225.75 H57.0 V225.66 H58.0 V224.67 H59.5 V224.56 H60.0 V224.55 H61.0 V225.36 H62.0 V225.63 H62.5 V225.40 H63.0 V225.74 H63.5 V225.83 H64.0 V225.92 H65.0 V225.97 H66.5 V225.91 H67.5 V225.91 H68.5 V225.98 H70.0 V225.55 H71.5 V226.00 H72.5 V225.90 H73.5 V225.64 H74.5 V225.99 H75.5 V225.85 H76.5 V225.82 H77.5 V225.99 H79.0 V225.95 H79.5 V225.94 H80.5 V225.94 H81.5 V225.94 H82.5 V225.75 H83.0 V225.87 H84.0 V225.85 H84.5 V225.92 H86.0 V225.99 H87.5 V225.93 H88.0 V225.91 H88.5 V225.62 H90.0 V225.99 H91.0 V225.91 H92.0 V225.97 H93.0 V225.96 H94.0 V225.92 H95.5 V225.81 H96.5 V225.97 H97.5 V225.88 H98.0 V225.92 H99.0 V225.92 H100.0 V225.96 H101.0 V225.95 H102.5 V225.61 H103.5 V225.75 H104.5 V225.87 H105.5 V225.97 H107.0 V225.99 H108.0 V225.92 H109.0 V225.90 H110.0 V225.56 H111.0 V225.92 H112.5 V225.93 H114.0 V225.95 H115.5 V225.97 H116.5 V225.91 H118.0 V225.88 H119.0 V225.92 H119.5 V225.86 H120.5 V225.99 H121.0 V225.91 H122.0 V225.74 H123.0 V225.57 H124.0 V225.98 H125.0 V225.88 H125.5 V225.83 H127.0 V225.99 H128.0 V225.97 H129.5 V225.95 H130.5 V225.97 H131.5 V225.94 H133.0 V225.91 H133.5 V225.91 H134.5 V225.99 H136.0 V225.90 H137.5 V225.93 H138.5 V225.98 H140.0 V225.99 H141.0 V225.93 H142.0 V225.76 H143.0 V225.91 H144.5 V225.66 H145.5 V225.86 H146.0 V225.99 H147.5 V225.91 H148.5 V225.98 H150.0 V225.96 H151.0 V225.95 H152.5 V225.71 H153.5 V225.73 H154.5 V225.39 H155.5 V225.11 H156.0 V224.54 H157.0 V224.81 H158.5 V224.95 H159.0 V225.19 H160.0 V225.18 H161.5 V225.38 H163.0 V224.64 H164.5 V224.75 H165.0 V224.46 H166.5 V225.46 H167.5 V225.61 H168.0 V226.00 H168.5 V225.95 H169.5 V225.93 H170.5 V225.89 H171.5 V225.93 H172.0 V225.82 H173.0 V225.98 H174.0 V225.94 H175.5 V225.93 H176.0 V225.68 H176.5 V225.94 H177.5 V225.93 H178.0 V225.75 H178.5 V225.89 H179.5 V225.99 H180.5 V225.77 H182.0 V225.93 H183.0 V225.97 H184.5 V225.89 H185.5 V225.90 H186.0 V225.98 H187.5 V225.97 H189.0 V225.03 H190.0 V223.75 H191.0 V217.81 H192.0 V216.77 H193.0 V215.00 H193.5 V216.66 H194.5 V220.89 H195.5 V222.32 H196.5 V222.66 H198.0 V223.10 H199.5 V223.43 H200.5 V224.58 H201.5 V223.81 H202.0 V224.11 H203.0 V223.31 H204.0 V224.37 H205.0 V223.41 H205.5 V224.12 H207.0 V225.23 H207.5 V225.11 H209.0 V225.96 H210.0 V225.98 H210.5 V225.94 H211.0 V225.98 H212.0 V225.80 H212.5 V225.64 H213.0 V225.62 H214.5 V225.66 H215.5 V225.89 H217.0 V225.95 H218.5 V225.98 H220.0 V225.93 H221.0 V225.64 H221.5 V225.96 H222.5 V225.73 H223.5 V225.61 H224.0 V225.98 H224.5 V225.88 H226.0 V225.90 H226.5 V225.74 H227.5 V225.95 H229.0 V225.97 H230.0 V225.96 H231.0 V225.77 H232.0 V225.80 H233.0 V225.90 H234.0 V225.88 H235.0 V225.89 H236.5 V226.00 H237.5 V225.84 H238.5 V225.62 H240.0 V225.59 H241.5 V225.79 H242.0 V225.66 H243.0 V225.65 H243.5 V225.97 H244 V226.0 Z" fill="#2cf210"/>
<rect x="30" y="225.45" width="214" height="1.1" fill="#2cf210"/>
<text x="29.7" y="221.9" font-size="7.8" fill="#2cf210" stroke="#2cf210" stroke-width="0.08" font-weight="normal" font-style="normal" text-anchor="start" >K562 (GSM4083804)</text>
<path d="M28.4,25.7 H23.2 V76.4 H28.4" fill="none" stroke="#c5021a" stroke-width="1.3"/>
<path d="M28.4,93.5 H23.2 V131.0 H28.4" fill="none" stroke="#0b30b0" stroke-width="1.3"/>
<path d="M28.4,150.6 H23.2 V226.2 H28.4" fill="none" stroke="#2cf210" stroke-width="1.3"/>
<text x="182.2" y="20.6" font-size="9.5" fill="#c5021a" stroke="#c5021a" stroke-width="0.18" font-weight="normal" font-style="normal" text-anchor="middle" >Super-enhancer</text>
<rect x="150.2" y="23.6" width="61.4" height="1.3" fill="#c5021a"/>
<text x="236.6" y="29.2" font-size="9.0" fill="#000" stroke="#000" stroke-width="0.3" font-weight="normal" font-style="normal" text-anchor="middle" >5 kb</text>
<rect x="228.3" y="32.1" width="14.8" height="1.9" fill="#000"/>
<rect x="80.2" y="229.6" width="12.4" height="3.8" fill="#2c2c9c"/><rect x="91.6" y="228.6" width="1.8" height="5.8" fill="#2c2c9c"/><rect x="93" y="230.9" width="97.5" height="1.0" fill="#2c2c9c"/><rect x="94.60000000000001" y="228.4" width="1.2" height="6" fill="#2c2c9c"/><rect x="114.10000000000001" y="228.4" width="1.2" height="6" fill="#2c2c9c"/><rect x="117.7" y="228.4" width="1.2" height="6" fill="#2c2c9c"/><rect x="119.4" y="228.4" width="1.2" height="6" fill="#2c2c9c"/><rect x="126.9" y="228.4" width="1.2" height="6" fill="#2c2c9c"/><rect x="130.70000000000002" y="228.4" width="1.2" height="6" fill="#2c2c9c"/><rect x="135.6" y="228.4" width="1.2" height="6" fill="#2c2c9c"/><rect x="137.70000000000002" y="228.4" width="1.2" height="6" fill="#2c2c9c"/><rect x="189.9" y="228.6" width="0.9" height="5.6" fill="#2c2c9c"/><rect x="102.3" y="230.6" width="1.4" height="1.6" fill="#2c2c9c"/><rect x="145.3" y="230.6" width="1.4" height="1.6" fill="#2c2c9c"/><rect x="171.3" y="230.6" width="1.4" height="1.6" fill="#2c2c9c"/><rect x="183.9" y="230.6" width="1.4" height="1.6" fill="#2c2c9c"/><path d="M158.5,231.4 L161,229.6 L161,233.2 Z" fill="#2c2c9c"/>
<text x="194.3" y="241.0" font-size="9.5" fill="#2c2c9c" stroke="#2c2c9c" stroke-width="0.4" font-weight="normal" font-style="italic" text-anchor="start" >MEF2D</text>
<text x="273.6" y="17.9" font-size="12.4" fill="#000" stroke="#000" stroke-width="0.18" font-weight="bold" font-style="normal" text-anchor="start" >B</text>
<text x="350.3" y="25.0" font-size="9.5" fill="#000" stroke="#000" stroke-width="0.18" font-weight="bold" font-style="normal" text-anchor="start" ><tspan font-style="italic" font-weight="normal" stroke-width="0.3">MEF2D</tspan> expression</text>
<text transform="translate(310.6,95.3) rotate(-90) scale(0.776,1)" font-size="8.4" fill="#000" stroke="#000" stroke-width="0.3">Relative mRNA levels</text>
<path d="M326.2,26 V102.2" stroke="#000" stroke-width="1.4" fill="none"/>
<path d="M322.5,101.5 H462.4" stroke="#000" stroke-width="1.3" fill="none"/>
<path d="M322.6,101.50 H326" stroke="#000" stroke-width="1.1"/>
<text x="319.9" y="104.8" font-size="8.6" fill="#000" stroke="#000" stroke-width="0.18" font-weight="normal" font-style="normal" text-anchor="end" >0</text>
<path d="M322.6,86.40 H326" stroke="#000" stroke-width="1.1"/>
<text x="319.9" y="89.7" font-size="8.6" fill="#000" stroke="#000" stroke-width="0.18" font-weight="normal" font-style="normal" text-anchor="end" >1</text>
<path d="M322.6,71.30 H326" stroke="#000" stroke-width="1.1"/>
<text x="319.9" y="74.6" font-size="8.6" fill="#000" stroke="#000" stroke-width="0.18" font-weight="normal" font-style="normal" text-anchor="end" >2</text>
<path d="M322.6,56.20 H326" stroke="#000" stroke-width="1.1"/>
<text x="319.9" y="59.5" font-size="8.6" fill="#000" stroke="#000" stroke-width="0.18" font-weight="normal" font-style="normal" text-anchor="end" >3</text>
<path d="M322.6,41.10 H326" stroke="#000" stroke-width="1.1"/>
<text x="319.9" y="44.4" font-size="8.6" fill="#000" stroke="#000" stroke-width="0.18" font-weight="normal" font-style="normal" text-anchor="end" >4</text>
<path d="M322.6,26.00 H326" stroke="#000" stroke-width="1.1"/>
<text x="319.9" y="29.3" font-size="8.6" fill="#000" stroke="#000" stroke-width="0.18" font-weight="normal" font-style="normal" text-anchor="end" >5</text>
<path d="M342.5,90.02 V88.36 M339.9,88.36 H345.1" stroke="#000" stroke-width="1.1" fill="none"/>
<rect x="337.2" y="90.02" width="10.6" height="11.48" fill="#c5021a"/>
<path d="M342.5,101.5 V104.6" stroke="#000" stroke-width="1.1"/>
<path d="M358.3,88.82 V87.16 M355.7,87.16 H360.90000000000003" stroke="#000" stroke-width="1.1" fill="none"/>
<rect x="353.0" y="88.82" width="10.6" height="12.68" fill="#c5021a"/>
<path d="M358.3,101.5 V104.6" stroke="#000" stroke-width="1.1"/>
<path d="M374.3,93.80 V93.19 M371.7,93.19 H376.90000000000003" stroke="#000" stroke-width="1.1" fill="none"/>
<rect x="369.0" y="93.80" width="10.6" height="7.70" fill="#c5021a"/>
<path d="M374.3,101.5 V104.6" stroke="#000" stroke-width="1.1"/>
<path d="M390.3,49.56 V41.40 M387.7,41.40 H392.90000000000003" stroke="#000" stroke-width="1.1" fill="none"/>
<rect x="385.0" y="49.56" width="10.6" height="51.94" fill="#c5021a"/>
<path d="M390.3,101.5 V104.6" stroke="#000" stroke-width="1.1"/>
<path d="M406.2,99.23 V98.48 M403.59999999999997,98.48 H408.8" stroke="#000" stroke-width="1.1" fill="none"/>
<rect x="400.9" y="99.23" width="10.6" height="2.27" fill="#0b30b0"/>
<path d="M406.2,101.5 V104.6" stroke="#000" stroke-width="1.1"/>
<path d="M422.2,100.44 V99.99 M419.59999999999997,99.99 H424.8" stroke="#000" stroke-width="1.1" fill="none"/>
<rect x="416.9" y="100.44" width="10.6" height="1.06" fill="#0b30b0"/>
<path d="M422.2,101.5 V104.6" stroke="#000" stroke-width="1.1"/>
<path d="M438.2,100.90 V100.59 M435.59999999999997,100.59 H440.8" stroke="#000" stroke-width="1.1" fill="none"/>
<rect x="432.9" y="100.90" width="10.6" height="0.60" fill="#0b30b0"/>
<path d="M438.2,101.5 V104.6" stroke="#000" stroke-width="1.1"/>
<path d="M454.2,100.59 V100.14 M451.59999999999997,100.14 H456.8" stroke="#000" stroke-width="1.1" fill="none"/>
<rect x="448.9" y="100.59" width="10.6" height="0.91" fill="#0b30b0"/>
<path d="M454.2,101.5 V104.6" stroke="#000" stroke-width="1.1"/>
<text transform="translate(345.70,110.40) rotate(-45)" font-size="8.4" fill="#c5021a" stroke="#c5021a" stroke-width="0.18" text-anchor="end" font-weight="normal" >MOLM-13</text>
<text transform="translate(361.60,110.40) rotate(-45)" font-size="8.4" fill="#c5021a" stroke="#c5021a" stroke-width="0.18" text-anchor="end" font-weight="normal" >MV4-11</text>
<text transform="translate(377.60,110.40) rotate(-45)" font-size="8.4" fill="#c5021a" stroke="#c5021a" stroke-width="0.18" text-anchor="end" font-weight="normal" >OCI-AML2</text>
<text transform="translate(393.70,110.40) rotate(-45)" font-size="8.4" fill="#c5021a" stroke="#c5021a" stroke-width="0.18" text-anchor="end" font-weight="normal" >THP-1</text>
<text transform="translate(409.60,110.40) rotate(-45)" font-size="8.4" fill="#1d44c4" stroke="#1d44c4" stroke-width="0.18" text-anchor="end" font-weight="normal" >U937</text>
<text transform="translate(425.60,110.40) rotate(-45)" font-size="8.4" fill="#1d44c4" stroke="#1d44c4" stroke-width="0.18" text-anchor="end" font-weight="normal" >SET-2</text>
<text transform="translate(441.60,110.40) rotate(-45)" font-size="8.4" fill="#1d44c4" stroke="#1d44c4" stroke-width="0.18" text-anchor="end" font-weight="normal" >HEL</text>
<text transform="translate(457.60,110.40) rotate(-45)" font-size="8.4" fill="#1d44c4" stroke="#1d44c4" stroke-width="0.18" text-anchor="end" font-weight="normal" >K562</text>
<text x="273.2" y="152.8" font-size="12.4" fill="#000" stroke="#000" stroke-width="0.18" font-weight="bold" font-style="normal" text-anchor="start" >C</text>
<text x="340.3" y="153.7" font-size="9.4" fill="#c5021a" stroke="#c5021a" stroke-width="0.18" font-weight="normal" font-style="normal" text-anchor="middle" >MLL-r</text>
<text x="419.2" y="153.7" font-size="9.4" fill="#1d44c4" stroke="#1d44c4" stroke-width="0.18" font-weight="normal" font-style="normal" text-anchor="middle" >non-MLL-r</text>
<path d="M303.4,161.4 V158.9 H377.3 V161.4 M382.6,161.4 V158.9 H456.3 V161.4" stroke="#000" stroke-width="1.2" fill="none"/>
<text transform="translate(293.00,193.80) rotate(-45)" font-size="8.4" fill="#c5021a" stroke="#c5021a" stroke-width="0.18" text-anchor="start" font-weight="normal" >MOLM-13</text>
<text transform="translate(314.00,193.80) rotate(-45)" font-size="8.4" fill="#c5021a" stroke="#c5021a" stroke-width="0.18" text-anchor="start" font-weight="normal" >MV4-11</text>
<text transform="translate(336.40,193.80) rotate(-45)" font-size="8.4" fill="#c5021a" stroke="#c5021a" stroke-width="0.18" text-anchor="start" font-weight="normal" >OCI-AML2</text>
<text transform="translate(358.80,193.80) rotate(-45)" font-size="8.4" fill="#c5021a" stroke="#c5021a" stroke-width="0.18" text-anchor="start" font-weight="normal" >THP-1</text>
<text transform="translate(379.80,193.80) rotate(-45)" font-size="8.4" fill="#1d44c4" stroke="#1d44c4" stroke-width="0.18" text-anchor="start" font-weight="normal" >U937</text>
<text transform="translate(401.60,193.80) rotate(-45)" font-size="8.4" fill="#1d44c4" stroke="#1d44c4" stroke-width="0.18" text-anchor="start" font-weight="normal" >SET-2</text>
<text transform="translate(423.20,193.80) rotate(-45)" font-size="8.4" fill="#1d44c4" stroke="#1d44c4" stroke-width="0.18" text-anchor="start" font-weight="normal" >HEL</text>
<text transform="translate(444.20,193.80) rotate(-45)" font-size="8.4" fill="#1d44c4" stroke="#1d44c4" stroke-width="0.18" text-anchor="start" font-weight="normal" >K562</text>
<defs><filter id="bl" x="-30%" y="-80%" width="160%" height="260%"><feGaussianBlur stdDeviation="1.2"/></filter><filter id="bl2" x="-20%" y="-50%" width="140%" height="200%"><feGaussianBlur stdDeviation="0.55"/></filter></defs>
<rect x="283.7" y="196.8" width="171" height="15.9" fill="#f4f7f6" stroke="#000" stroke-width="1.2"/>
<rect x="283.7" y="217.4" width="171" height="16.8" fill="#eef3f2" stroke="#000" stroke-width="1.2"/>
<rect x="284.6" y="200.0" width="19.0" height="10.199999999999989" rx="5.099999999999994" fill="#9fb0ae" opacity="0.55" filter="url(#bl)"/>
<rect x="305.5" y="201.4" width="17.30000000000001" height="8.0" rx="4.0" fill="#9fb0ae" opacity="0.55" filter="url(#bl)"/>
<rect x="326" y="200.3" width="19.30000000000001" height="9.799999999999983" rx="4.8999999999999915" fill="#9fb0ae" opacity="0.55" filter="url(#bl)"/>
<rect x="347.8" y="199.6" width="20.0" height="10.400000000000006" rx="5.200000000000003" fill="#9fb0ae" opacity="0.55" filter="url(#bl)"/>
<rect x="371.3" y="202.7" width="16.19999999999999" height="5.800000000000011" rx="2.9000000000000057" fill="#9fb0ae" opacity="0.55" filter="url(#bl)"/>
<rect x="392.5" y="202.8" width="15.800000000000011" height="5.599999999999994" rx="2.799999999999997" fill="#9fb0ae" opacity="0.55" filter="url(#bl)"/>
<rect x="413" y="202.8" width="15.5" height="5.599999999999994" rx="2.799999999999997" fill="#9fb0ae" opacity="0.55" filter="url(#bl)"/>
<rect x="433.6" y="202.8" width="17.0" height="5.599999999999994" rx="2.799999999999997" fill="#9fb0ae" opacity="0.55" filter="url(#bl)"/>
<rect x="285.6" y="201.0" width="17.0" height="8.199999999999989" rx="4.099999999999994" fill="#000" filter="url(#bl2)"/>
<rect x="306.5" y="202.4" width="15.300000000000011" height="6.0" rx="3.0" fill="#000" filter="url(#bl2)"/>
<rect x="327" y="201.3" width="17.30000000000001" height="7.799999999999983" rx="3.8999999999999915" fill="#000" filter="url(#bl2)"/>
<rect x="348.8" y="200.6" width="18.0" height="8.400000000000006" rx="4.200000000000003" fill="#000" filter="url(#bl2)"/>
<rect x="372.3" y="203.7" width="14.199999999999989" height="3.8000000000000114" rx="1.9000000000000057" fill="#353535" filter="url(#bl2)"/>
<rect x="393.5" y="203.8" width="13.800000000000011" height="3.5999999999999943" rx="1.7999999999999972" fill="#c3cbca" filter="url(#bl2)"/>
<rect x="414" y="203.8" width="13.5" height="3.5999999999999943" rx="1.7999999999999972" fill="#c6cecd" filter="url(#bl2)"/>
<rect x="434.6" y="203.8" width="15.0" height="3.5999999999999943" rx="1.7999999999999972" fill="#c8d0cf" filter="url(#bl2)"/>
<rect x="284.0" y="220.6" width="22.0" height="13.200000000000017" rx="6.6000000000000085" fill="#8fa3a0" opacity="0.5" filter="url(#bl)"/>
<rect x="303.9" y="221.2" width="22.100000000000023" height="11.600000000000023" rx="5.800000000000011" fill="#8fa3a0" opacity="0.5" filter="url(#bl)"/>
<rect x="324.5" y="220.4" width="23.5" height="13.0" rx="6.5" fill="#8fa3a0" opacity="0.5" filter="url(#bl)"/>
<rect x="348.5" y="221.6" width="19.69999999999999" height="7.200000000000017" rx="3.6000000000000085" fill="#8fa3a0" opacity="0.5" filter="url(#bl)"/>
<rect x="369.2" y="219.4" width="22.80000000000001" height="12.400000000000006" rx="6.200000000000003" fill="#8fa3a0" opacity="0.5" filter="url(#bl)"/>
<rect x="389.5" y="219.4" width="23.5" height="12.400000000000006" rx="6.200000000000003" fill="#8fa3a0" opacity="0.5" filter="url(#bl)"/>
<rect x="410.2" y="219.4" width="23.100000000000023" height="12.599999999999994" rx="6.299999999999997" fill="#8fa3a0" opacity="0.5" filter="url(#bl)"/>
<rect x="430.7" y="219.4" width="23.69999999999999" height="12.799999999999983" rx="6.3999999999999915" fill="#8fa3a0" opacity="0.5" filter="url(#bl)"/>
<rect x="284.2" y="221.6" width="21.6" height="11.200000000000017" rx="4.666666666666674" fill="#000" filter="url(#bl2)"/>
<rect x="304.09999999999997" y="222.2" width="21.700000000000024" height="9.600000000000023" rx="4.00000000000001" fill="#000" filter="url(#bl2)"/>
<rect x="324.7" y="221.4" width="23.1" height="11.0" rx="4.583333333333334" fill="#000" filter="url(#bl2)"/>
<rect x="348.7" y="222.6" width="19.29999999999999" height="5.200000000000017" rx="2.166666666666674" fill="#000" filter="url(#bl2)"/>
<rect x="369.4" y="220.4" width="22.400000000000013" height="10.400000000000006" rx="4.333333333333336" fill="#000" filter="url(#bl2)"/>
<rect x="389.7" y="220.4" width="23.1" height="10.400000000000006" rx="4.333333333333336" fill="#000" filter="url(#bl2)"/>
<rect x="410.4" y="220.4" width="22.700000000000024" height="10.599999999999994" rx="4.416666666666664" fill="#000" filter="url(#bl2)"/>
<rect x="430.9" y="220.4" width="23.29999999999999" height="10.799999999999983" rx="4.499999999999993" fill="#000" filter="url(#bl2)"/>
<text x="459.0" y="207.6" font-size="9.4" fill="#000" stroke="#000" stroke-width="0.18" font-weight="normal" font-style="normal" text-anchor="start" >MEF2D</text>
<text x="459.0" y="228.5" font-size="9.4" fill="#000" stroke="#000" stroke-width="0.18" font-weight="normal" font-style="normal" text-anchor="start" >GAPDH</text>
<text x="6.9" y="266.0" font-size="12.4" fill="#000" stroke="#000" stroke-width="0.18" font-weight="bold" font-style="normal" text-anchor="start" >D</text>
<text x="69.4" y="263.3" font-size="8.75" fill="#000" stroke="#000" stroke-width="0.18" font-weight="normal" font-style="normal" text-anchor="start" >MEF2D expression</text>
<path d="M40.2,276 V367.2 H174.7" stroke="#000" stroke-width="1.3" fill="none"/>
<path d="M36.6,359.58 H40.2" stroke="#000" stroke-width="1.1"/>
<text x="34.3" y="362.47999999999996" font-size="8.1" fill="#000" stroke="#000" stroke-width="0.18" font-weight="normal" font-style="normal" text-anchor="end" >5</text>
<path d="M36.6,338.86 H40.2" stroke="#000" stroke-width="1.1"/>
<text x="34.3" y="341.76" font-size="8.1" fill="#000" stroke="#000" stroke-width="0.18" font-weight="normal" font-style="normal" text-anchor="end" >6</text>
<path d="M36.6,318.14 H40.2" stroke="#000" stroke-width="1.1"/>
<text x="34.3" y="321.03999999999996" font-size="8.1" fill="#000" stroke="#000" stroke-width="0.18" font-weight="normal" font-style="normal" text-anchor="end" >7</text>
<path d="M36.6,297.42 H40.2" stroke="#000" stroke-width="1.1"/>
<text x="34.3" y="300.31999999999994" font-size="8.1" fill="#000" stroke="#000" stroke-width="0.18" font-weight="normal" font-style="normal" text-anchor="end" >8</text>
<path d="M36.6,276.70 H40.2" stroke="#000" stroke-width="1.1"/>
<text x="34.3" y="279.59999999999997" font-size="8.1" fill="#000" stroke="#000" stroke-width="0.18" font-weight="normal" font-style="normal" text-anchor="end" >9</text>
<text transform="translate(21.0,360.2) rotate(-90) scale(0.683,1)" font-size="9.8" fill="#000" stroke="#000" stroke-width="0.15">Relative expression (log<tspan font-size="6.2" dy="2.0">2</tspan><tspan dy="-2.0">)</tspan></text>
<path d="M52.5,367.2 V370.1" stroke="#000" stroke-width="1.1"/>
<path d="M70.9,367.2 V370.1" stroke="#000" stroke-width="1.1"/>
<path d="M89.3,367.2 V370.1" stroke="#000" stroke-width="1.1"/>
<path d="M107.7,367.2 V370.1" stroke="#000" stroke-width="1.1"/>
<path d="M126.1,367.2 V370.1" stroke="#000" stroke-width="1.1"/>
<path d="M144.5,367.2 V370.1" stroke="#000" stroke-width="1.1"/>
<path d="M162.9,367.2 V370.1" stroke="#000" stroke-width="1.1"/>
<text transform="translate(55.80,378.00) rotate(-45)" font-size="7.8" fill="#000" stroke="#000" stroke-width="0.18" text-anchor="end" font-weight="normal" textLength="40.0" lengthAdjust="spacingAndGlyphs">Healthy BM</text>
<text transform="translate(74.20,378.00) rotate(-45)" font-size="7.8" fill="#1d44c4" stroke="#1d44c4" stroke-width="0.18" text-anchor="end" font-weight="normal" textLength="34.8" lengthAdjust="spacingAndGlyphs">MLL fusion</text>
<text transform="translate(92.60,378.00) rotate(-45)" font-size="7.8" fill="#000" stroke="#000" stroke-width="0.18" text-anchor="end" font-weight="normal" textLength="28.2" lengthAdjust="spacingAndGlyphs">Complex.</text>
<text transform="translate(111.00,378.00) rotate(-45)" font-size="7.8" fill="#000" stroke="#000" stroke-width="0.18" text-anchor="end" font-weight="normal" textLength="21.0" lengthAdjust="spacingAndGlyphs">Inv(16)</text>
<text transform="translate(129.40,378.00) rotate(-45)" font-size="7.8" fill="#000" stroke="#000" stroke-width="0.18" text-anchor="end" font-weight="normal" textLength="57.2" lengthAdjust="spacingAndGlyphs">Normal karyotype.</text>
<text transform="translate(147.80,378.00) rotate(-45)" font-size="7.8" fill="#000" stroke="#000" stroke-width="0.18" text-anchor="end" font-weight="normal" textLength="24.2" lengthAdjust="spacingAndGlyphs">t(15;17)</text>
<text transform="translate(166.20,378.00) rotate(-45)" font-size="7.8" fill="#000" stroke="#000" stroke-width="0.18" text-anchor="end" font-weight="normal" textLength="19.9" lengthAdjust="spacingAndGlyphs">t(8;21)</text>
<g fill="#c5021a"><circle cx="52.50" cy="299.60" r="1.3"/><circle cx="52.50" cy="308.00" r="1.3"/><circle cx="52.50" cy="310.80" r="1.3"/><circle cx="51.10" cy="313.18" r="1.3"/><circle cx="53.90" cy="313.18" r="1.3"/><circle cx="51.10" cy="315.98" r="1.3"/><circle cx="53.90" cy="315.98" r="1.3"/><circle cx="49.70" cy="318.36" r="1.3"/><circle cx="52.50" cy="319.20" r="1.3"/><circle cx="55.30" cy="318.36" r="1.3"/><circle cx="49.70" cy="321.16" r="1.3"/><circle cx="52.50" cy="322.00" r="1.3"/><circle cx="55.30" cy="321.16" r="1.3"/><circle cx="48.30" cy="323.54" r="1.3"/><circle cx="51.10" cy="324.38" r="1.3"/><circle cx="53.90" cy="324.38" r="1.3"/><circle cx="56.70" cy="323.54" r="1.3"/><circle cx="46.90" cy="325.92" r="1.3"/><circle cx="49.70" cy="326.76" r="1.3"/><circle cx="52.50" cy="327.60" r="1.3"/><circle cx="55.30" cy="326.76" r="1.3"/><circle cx="58.10" cy="325.92" r="1.3"/><circle cx="46.90" cy="328.02" r="1.3"/><circle cx="49.70" cy="328.86" r="1.3"/><circle cx="52.50" cy="329.70" r="1.3"/><circle cx="55.30" cy="328.86" r="1.3"/><circle cx="58.10" cy="328.02" r="1.3"/><circle cx="49.70" cy="330.26" r="1.3"/><circle cx="52.50" cy="331.10" r="1.3"/><circle cx="55.30" cy="330.26" r="1.3"/><circle cx="46.90" cy="330.82" r="1.3"/><circle cx="49.70" cy="331.66" r="1.3"/><circle cx="52.50" cy="332.50" r="1.3"/><circle cx="55.30" cy="331.66" r="1.3"/><circle cx="58.10" cy="330.82" r="1.3"/><circle cx="49.70" cy="333.06" r="1.3"/><circle cx="52.50" cy="333.90" r="1.3"/><circle cx="55.30" cy="333.06" r="1.3"/><circle cx="46.90" cy="333.62" r="1.3"/><circle cx="49.70" cy="334.46" r="1.3"/><circle cx="52.50" cy="335.30" r="1.3"/><circle cx="55.30" cy="334.46" r="1.3"/><circle cx="58.10" cy="333.62" r="1.3"/><circle cx="49.70" cy="335.86" r="1.3"/><circle cx="52.50" cy="336.70" r="1.3"/><circle cx="55.30" cy="335.86" r="1.3"/><circle cx="46.90" cy="336.42" r="1.3"/><circle cx="49.70" cy="337.26" r="1.3"/><circle cx="52.50" cy="338.10" r="1.3"/><circle cx="55.30" cy="337.26" r="1.3"/><circle cx="58.10" cy="336.42" r="1.3"/><circle cx="49.70" cy="338.66" r="1.3"/><circle cx="52.50" cy="339.50" r="1.3"/><circle cx="55.30" cy="338.66" r="1.3"/><circle cx="49.70" cy="340.76" r="1.3"/><circle cx="52.50" cy="341.60" r="1.3"/><circle cx="55.30" cy="340.76" r="1.3"/></g>
<path d="M46.0,330.57 H59.0 M52.5,324.36 V336.79 M49.0,324.36 H56.0 M49.0,336.79 H56.0" stroke="#c5021a" stroke-width="1.2" fill="none"/>
<g fill="#0b30b0"><circle cx="69.40" cy="289.95" r="1.3"/><circle cx="72.40" cy="289.95" r="1.3"/><circle cx="67.90" cy="292.80" r="1.3"/><circle cx="70.90" cy="293.70" r="1.3"/><circle cx="73.90" cy="292.80" r="1.3"/><circle cx="67.90" cy="296.10" r="1.3"/><circle cx="70.90" cy="297.00" r="1.3"/><circle cx="73.90" cy="296.10" r="1.3"/><circle cx="64.90" cy="298.50" r="1.3"/><circle cx="67.90" cy="299.40" r="1.3"/><circle cx="70.90" cy="300.30" r="1.3"/><circle cx="73.90" cy="299.40" r="1.3"/><circle cx="76.90" cy="298.50" r="1.3"/><circle cx="69.40" cy="306.45" r="1.3"/><circle cx="72.40" cy="306.45" r="1.3"/><circle cx="70.90" cy="310.20" r="1.3"/><circle cx="64.90" cy="311.70" r="1.3"/><circle cx="67.90" cy="312.60" r="1.3"/><circle cx="70.90" cy="313.50" r="1.3"/><circle cx="73.90" cy="312.60" r="1.3"/><circle cx="76.90" cy="311.70" r="1.3"/><circle cx="67.90" cy="315.90" r="1.3"/><circle cx="70.90" cy="316.80" r="1.3"/><circle cx="73.90" cy="315.90" r="1.3"/><circle cx="69.40" cy="319.65" r="1.3"/><circle cx="72.40" cy="319.65" r="1.3"/><circle cx="66.40" cy="322.05" r="1.3"/><circle cx="69.40" cy="322.95" r="1.3"/><circle cx="72.40" cy="322.95" r="1.3"/><circle cx="75.40" cy="322.05" r="1.3"/><circle cx="69.40" cy="326.25" r="1.3"/><circle cx="72.40" cy="326.25" r="1.3"/><circle cx="64.90" cy="328.20" r="1.3"/><circle cx="67.90" cy="329.10" r="1.3"/><circle cx="70.90" cy="330.00" r="1.3"/><circle cx="73.90" cy="329.10" r="1.3"/><circle cx="76.90" cy="328.20" r="1.3"/><circle cx="69.40" cy="332.85" r="1.3"/><circle cx="72.40" cy="332.85" r="1.3"/><circle cx="70.90" cy="336.60" r="1.3"/></g>
<path d="M64.4,311.92 H77.4 M70.9,301.98 V321.87 M67.4,301.98 H74.4 M67.4,321.87 H74.4" stroke="#0b30b0" stroke-width="1.2" fill="none"/>
<g fill="#2cf210"><circle cx="83.70" cy="317.24" r="1.25"/><circle cx="86.50" cy="318.22" r="1.25"/><circle cx="89.30" cy="319.20" r="1.25"/><circle cx="92.10" cy="318.22" r="1.25"/><circle cx="94.90" cy="317.24" r="1.25"/><circle cx="83.70" cy="308.14" r="1.25"/><circle cx="86.50" cy="309.12" r="1.25"/><circle cx="89.30" cy="310.10" r="1.25"/><circle cx="92.10" cy="309.12" r="1.25"/><circle cx="94.90" cy="308.14" r="1.25"/><circle cx="89.30" cy="311.50" r="1.25"/><circle cx="83.70" cy="327.74" r="1.25"/><circle cx="86.50" cy="328.72" r="1.25"/><circle cx="89.30" cy="329.70" r="1.25"/><circle cx="92.10" cy="328.72" r="1.25"/><circle cx="94.90" cy="327.74" r="1.25"/><circle cx="89.30" cy="331.10" r="1.25"/><circle cx="83.70" cy="311.64" r="1.25"/><circle cx="86.50" cy="312.62" r="1.25"/><circle cx="89.30" cy="313.60" r="1.25"/><circle cx="92.10" cy="312.62" r="1.25"/><circle cx="94.90" cy="311.64" r="1.25"/><circle cx="83.70" cy="321.91" r="1.25"/><circle cx="86.50" cy="322.89" r="1.25"/><circle cx="89.30" cy="323.87" r="1.25"/><circle cx="92.10" cy="322.89" r="1.25"/><circle cx="94.90" cy="321.91" r="1.25"/><circle cx="83.70" cy="322.84" r="1.25"/><circle cx="86.50" cy="323.82" r="1.25"/><circle cx="89.30" cy="324.80" r="1.25"/><circle cx="92.10" cy="323.82" r="1.25"/><circle cx="94.90" cy="322.84" r="1.25"/><circle cx="89.30" cy="325.73" r="1.25"/><circle cx="86.50" cy="304.22" r="1.25"/><circle cx="89.30" cy="305.20" r="1.25"/><circle cx="92.10" cy="304.22" r="1.25"/><circle cx="83.70" cy="319.34" r="1.25"/><circle cx="86.50" cy="320.32" r="1.25"/><circle cx="89.30" cy="321.30" r="1.25"/><circle cx="92.10" cy="320.32" r="1.25"/><circle cx="94.90" cy="319.34" r="1.25"/><circle cx="83.70" cy="320.74" r="1.25"/><circle cx="86.50" cy="321.72" r="1.25"/><circle cx="89.30" cy="322.70" r="1.25"/><circle cx="92.10" cy="321.72" r="1.25"/><circle cx="94.90" cy="320.74" r="1.25"/><circle cx="85.10" cy="314.93" r="1.25"/><circle cx="87.90" cy="315.91" r="1.25"/><circle cx="90.70" cy="315.91" r="1.25"/><circle cx="93.50" cy="314.93" r="1.25"/><circle cx="85.10" cy="331.73" r="1.25"/><circle cx="87.90" cy="332.71" r="1.25"/><circle cx="90.70" cy="332.71" r="1.25"/><circle cx="93.50" cy="331.73" r="1.25"/><circle cx="89.30" cy="336.00" r="1.25"/><circle cx="83.70" cy="324.94" r="1.25"/><circle cx="86.50" cy="325.92" r="1.25"/><circle cx="89.30" cy="326.90" r="1.25"/><circle cx="92.10" cy="325.92" r="1.25"/><circle cx="94.90" cy="324.94" r="1.25"/><circle cx="89.30" cy="328.30" r="1.25"/><circle cx="86.50" cy="337.82" r="1.25"/><circle cx="89.30" cy="338.80" r="1.25"/><circle cx="92.10" cy="337.82" r="1.25"/><circle cx="87.90" cy="307.51" r="1.25"/><circle cx="90.70" cy="307.51" r="1.25"/><circle cx="89.30" cy="294.00" r="1.25"/><circle cx="89.30" cy="302.40" r="1.25"/></g>
<path d="M82.8,319.80 H95.8 M89.3,311.10 V328.50 M85.8,311.10 H92.8 M85.8,328.50 H92.8" stroke="#2cf210" stroke-width="1.2" fill="none"/>
<g fill="#1e1e9a"><path d="M100.26,311.39 h2.88 l-1.44,2.50 z"/><path d="M103.26,312.29 h2.88 l-1.44,2.50 z"/><path d="M106.26,313.19 h2.88 l-1.44,2.50 z"/><path d="M109.26,312.29 h2.88 l-1.44,2.50 z"/><path d="M112.26,311.39 h2.88 l-1.44,2.50 z"/><path d="M106.26,314.69 h2.88 l-1.44,2.50 z"/><path d="M101.76,309.59 h2.88 l-1.44,2.50 z"/><path d="M104.76,310.49 h2.88 l-1.44,2.50 z"/><path d="M107.76,310.49 h2.88 l-1.44,2.50 z"/><path d="M110.76,309.59 h2.88 l-1.44,2.50 z"/><path d="M101.76,315.59 h2.88 l-1.44,2.50 z"/><path d="M104.76,316.49 h2.88 l-1.44,2.50 z"/><path d="M107.76,316.49 h2.88 l-1.44,2.50 z"/><path d="M110.76,315.59 h2.88 l-1.44,2.50 z"/><path d="M104.76,307.49 h2.88 l-1.44,2.50 z"/><path d="M107.76,307.49 h2.88 l-1.44,2.50 z"/><path d="M104.76,304.49 h2.88 l-1.44,2.50 z"/><path d="M107.76,304.49 h2.88 l-1.44,2.50 z"/><path d="M100.26,318.14 h2.88 l-1.44,2.50 z"/><path d="M103.26,319.04 h2.88 l-1.44,2.50 z"/><path d="M106.26,319.94 h2.88 l-1.44,2.50 z"/><path d="M109.26,319.04 h2.88 l-1.44,2.50 z"/><path d="M112.26,318.14 h2.88 l-1.44,2.50 z"/><path d="M106.26,325.94 h2.88 l-1.44,2.50 z"/><path d="M106.26,328.94 h2.88 l-1.44,2.50 z"/><path d="M106.26,322.94 h2.88 l-1.44,2.50 z"/><path d="M106.26,286.94 h2.88 l-1.44,2.50 z"/><path d="M106.26,292.94 h2.88 l-1.44,2.50 z"/></g>
<path d="M101.19999999999999,315.45 H114.19999999999999 M107.69999999999999,305.50 V325.39 M104.19999999999999,305.50 H111.19999999999999 M104.19999999999999,325.39 H111.19999999999999" stroke="#1e1e9a" stroke-width="1.2" fill="none"/>
<g fill="#ff7a00"><circle cx="120.85" cy="332.93" r="1.0"/><circle cx="122.95" cy="333.77" r="1.0"/><circle cx="125.05" cy="334.61" r="1.0"/><circle cx="127.15" cy="334.61" r="1.0"/><circle cx="129.25" cy="333.77" r="1.0"/><circle cx="131.35" cy="332.93" r="1.0"/><circle cx="120.85" cy="333.70" r="1.0"/><circle cx="122.95" cy="334.54" r="1.0"/><circle cx="125.05" cy="335.38" r="1.0"/><circle cx="127.15" cy="335.38" r="1.0"/><circle cx="129.25" cy="334.54" r="1.0"/><circle cx="131.35" cy="333.70" r="1.0"/><circle cx="126.10" cy="336.57" r="1.0"/><circle cx="120.85" cy="330.63" r="1.0"/><circle cx="122.95" cy="331.47" r="1.0"/><circle cx="125.05" cy="332.31" r="1.0"/><circle cx="127.15" cy="332.31" r="1.0"/><circle cx="129.25" cy="331.47" r="1.0"/><circle cx="131.35" cy="330.63" r="1.0"/><circle cx="120.85" cy="331.40" r="1.0"/><circle cx="122.95" cy="332.24" r="1.0"/><circle cx="125.05" cy="333.08" r="1.0"/><circle cx="127.15" cy="333.08" r="1.0"/><circle cx="129.25" cy="332.24" r="1.0"/><circle cx="131.35" cy="331.40" r="1.0"/><circle cx="126.10" cy="334.27" r="1.0"/><circle cx="120.85" cy="310.12" r="1.0"/><circle cx="122.95" cy="310.96" r="1.0"/><circle cx="125.05" cy="311.80" r="1.0"/><circle cx="127.15" cy="311.80" r="1.0"/><circle cx="129.25" cy="310.96" r="1.0"/><circle cx="131.35" cy="310.12" r="1.0"/><circle cx="120.85" cy="311.27" r="1.0"/><circle cx="122.95" cy="312.11" r="1.0"/><circle cx="125.05" cy="312.95" r="1.0"/><circle cx="127.15" cy="312.95" r="1.0"/><circle cx="129.25" cy="312.11" r="1.0"/><circle cx="131.35" cy="311.27" r="1.0"/><circle cx="120.85" cy="319.13" r="1.0"/><circle cx="122.95" cy="319.97" r="1.0"/><circle cx="125.05" cy="320.81" r="1.0"/><circle cx="127.15" cy="320.81" r="1.0"/><circle cx="129.25" cy="319.97" r="1.0"/><circle cx="131.35" cy="319.13" r="1.0"/><circle cx="120.85" cy="319.90" r="1.0"/><circle cx="122.95" cy="320.74" r="1.0"/><circle cx="125.05" cy="321.58" r="1.0"/><circle cx="127.15" cy="321.58" r="1.0"/><circle cx="129.25" cy="320.74" r="1.0"/><circle cx="131.35" cy="319.90" r="1.0"/><circle cx="122.95" cy="321.51" r="1.0"/><circle cx="125.05" cy="322.35" r="1.0"/><circle cx="127.15" cy="322.35" r="1.0"/><circle cx="129.25" cy="321.51" r="1.0"/><circle cx="120.85" cy="305.33" r="1.0"/><circle cx="122.95" cy="306.17" r="1.0"/><circle cx="125.05" cy="307.01" r="1.0"/><circle cx="127.15" cy="307.01" r="1.0"/><circle cx="129.25" cy="306.17" r="1.0"/><circle cx="131.35" cy="305.33" r="1.0"/><circle cx="120.85" cy="306.10" r="1.0"/><circle cx="122.95" cy="306.94" r="1.0"/><circle cx="125.05" cy="307.78" r="1.0"/><circle cx="127.15" cy="307.78" r="1.0"/><circle cx="129.25" cy="306.94" r="1.0"/><circle cx="131.35" cy="306.10" r="1.0"/><circle cx="126.10" cy="308.97" r="1.0"/><circle cx="120.85" cy="316.74" r="1.0"/><circle cx="122.95" cy="317.58" r="1.0"/><circle cx="125.05" cy="318.42" r="1.0"/><circle cx="127.15" cy="318.42" r="1.0"/><circle cx="129.25" cy="317.58" r="1.0"/><circle cx="131.35" cy="316.74" r="1.0"/><circle cx="120.85" cy="317.31" r="1.0"/><circle cx="122.95" cy="318.15" r="1.0"/><circle cx="125.05" cy="318.99" r="1.0"/><circle cx="127.15" cy="318.99" r="1.0"/><circle cx="129.25" cy="318.15" r="1.0"/><circle cx="131.35" cy="317.31" r="1.0"/><circle cx="120.85" cy="317.89" r="1.0"/><circle cx="122.95" cy="318.73" r="1.0"/><circle cx="125.05" cy="319.57" r="1.0"/><circle cx="127.15" cy="319.57" r="1.0"/><circle cx="129.25" cy="318.73" r="1.0"/><circle cx="131.35" cy="317.89" r="1.0"/><circle cx="124.00" cy="319.72" r="1.0"/><circle cx="126.10" cy="320.56" r="1.0"/><circle cx="128.20" cy="319.72" r="1.0"/><circle cx="120.85" cy="303.22" r="1.0"/><circle cx="122.95" cy="304.06" r="1.0"/><circle cx="125.05" cy="304.90" r="1.0"/><circle cx="127.15" cy="304.90" r="1.0"/><circle cx="129.25" cy="304.06" r="1.0"/><circle cx="131.35" cy="303.22" r="1.0"/><circle cx="125.05" cy="306.05" r="1.0"/><circle cx="127.15" cy="306.05" r="1.0"/><circle cx="120.85" cy="323.73" r="1.0"/><circle cx="122.95" cy="324.57" r="1.0"/><circle cx="125.05" cy="325.41" r="1.0"/><circle cx="127.15" cy="325.41" r="1.0"/><circle cx="129.25" cy="324.57" r="1.0"/><circle cx="131.35" cy="323.73" r="1.0"/><circle cx="120.85" cy="324.50" r="1.0"/><circle cx="122.95" cy="325.34" r="1.0"/><circle cx="125.05" cy="326.18" r="1.0"/><circle cx="127.15" cy="326.18" r="1.0"/><circle cx="129.25" cy="325.34" r="1.0"/><circle cx="131.35" cy="324.50" r="1.0"/><circle cx="124.00" cy="326.53" r="1.0"/><circle cx="126.10" cy="327.37" r="1.0"/><circle cx="128.20" cy="326.53" r="1.0"/><circle cx="120.85" cy="314.53" r="1.0"/><circle cx="122.95" cy="315.37" r="1.0"/><circle cx="125.05" cy="316.21" r="1.0"/><circle cx="127.15" cy="316.21" r="1.0"/><circle cx="129.25" cy="315.37" r="1.0"/><circle cx="131.35" cy="314.53" r="1.0"/><circle cx="120.85" cy="315.30" r="1.0"/><circle cx="122.95" cy="316.14" r="1.0"/><circle cx="125.05" cy="316.98" r="1.0"/><circle cx="127.15" cy="316.98" r="1.0"/><circle cx="129.25" cy="316.14" r="1.0"/><circle cx="131.35" cy="315.30" r="1.0"/><circle cx="121.90" cy="316.49" r="1.0"/><circle cx="124.00" cy="317.33" r="1.0"/><circle cx="126.10" cy="318.17" r="1.0"/><circle cx="128.20" cy="317.33" r="1.0"/><circle cx="130.30" cy="316.49" r="1.0"/><circle cx="120.85" cy="321.34" r="1.0"/><circle cx="122.95" cy="322.18" r="1.0"/><circle cx="125.05" cy="323.02" r="1.0"/><circle cx="127.15" cy="323.02" r="1.0"/><circle cx="129.25" cy="322.18" r="1.0"/><circle cx="131.35" cy="321.34" r="1.0"/><circle cx="120.85" cy="321.91" r="1.0"/><circle cx="122.95" cy="322.75" r="1.0"/><circle cx="125.05" cy="323.59" r="1.0"/><circle cx="127.15" cy="323.59" r="1.0"/><circle cx="129.25" cy="322.75" r="1.0"/><circle cx="131.35" cy="321.91" r="1.0"/><circle cx="120.85" cy="322.49" r="1.0"/><circle cx="122.95" cy="323.33" r="1.0"/><circle cx="125.05" cy="324.17" r="1.0"/><circle cx="127.15" cy="324.17" r="1.0"/><circle cx="129.25" cy="323.33" r="1.0"/><circle cx="131.35" cy="322.49" r="1.0"/><circle cx="124.00" cy="324.32" r="1.0"/><circle cx="126.10" cy="325.16" r="1.0"/><circle cx="128.20" cy="324.32" r="1.0"/><circle cx="120.85" cy="326.22" r="1.0"/><circle cx="122.95" cy="327.06" r="1.0"/><circle cx="125.05" cy="327.90" r="1.0"/><circle cx="127.15" cy="327.90" r="1.0"/><circle cx="129.25" cy="327.06" r="1.0"/><circle cx="131.35" cy="326.22" r="1.0"/><circle cx="125.05" cy="329.05" r="1.0"/><circle cx="127.15" cy="329.05" r="1.0"/><circle cx="121.90" cy="295.02" r="1.0"/><circle cx="124.00" cy="295.86" r="1.0"/><circle cx="126.10" cy="296.70" r="1.0"/><circle cx="128.20" cy="295.86" r="1.0"/><circle cx="130.30" cy="295.02" r="1.0"/><circle cx="122.95" cy="297.74" r="1.0"/><circle cx="125.05" cy="298.58" r="1.0"/><circle cx="127.15" cy="298.58" r="1.0"/><circle cx="129.25" cy="297.74" r="1.0"/><circle cx="120.85" cy="335.42" r="1.0"/><circle cx="122.95" cy="336.26" r="1.0"/><circle cx="125.05" cy="337.10" r="1.0"/><circle cx="127.15" cy="337.10" r="1.0"/><circle cx="129.25" cy="336.26" r="1.0"/><circle cx="131.35" cy="335.42" r="1.0"/><circle cx="125.05" cy="338.25" r="1.0"/><circle cx="127.15" cy="338.25" r="1.0"/><circle cx="120.85" cy="328.52" r="1.0"/><circle cx="122.95" cy="329.37" r="1.0"/><circle cx="125.05" cy="330.20" r="1.0"/><circle cx="127.15" cy="330.20" r="1.0"/><circle cx="129.25" cy="329.37" r="1.0"/><circle cx="131.35" cy="328.52" r="1.0"/><circle cx="120.85" cy="329.67" r="1.0"/><circle cx="122.95" cy="330.51" r="1.0"/><circle cx="125.05" cy="331.35" r="1.0"/><circle cx="127.15" cy="331.35" r="1.0"/><circle cx="129.25" cy="330.51" r="1.0"/><circle cx="131.35" cy="329.67" r="1.0"/><circle cx="120.85" cy="312.42" r="1.0"/><circle cx="122.95" cy="313.26" r="1.0"/><circle cx="125.05" cy="314.10" r="1.0"/><circle cx="127.15" cy="314.10" r="1.0"/><circle cx="129.25" cy="313.26" r="1.0"/><circle cx="131.35" cy="312.42" r="1.0"/><circle cx="120.85" cy="313.57" r="1.0"/><circle cx="122.95" cy="314.41" r="1.0"/><circle cx="125.05" cy="315.25" r="1.0"/><circle cx="127.15" cy="315.25" r="1.0"/><circle cx="129.25" cy="314.41" r="1.0"/><circle cx="131.35" cy="313.57" r="1.0"/><circle cx="120.85" cy="300.92" r="1.0"/><circle cx="122.95" cy="301.76" r="1.0"/><circle cx="125.05" cy="302.60" r="1.0"/><circle cx="127.15" cy="302.60" r="1.0"/><circle cx="129.25" cy="301.76" r="1.0"/><circle cx="131.35" cy="300.92" r="1.0"/><circle cx="126.10" cy="304.17" r="1.0"/><circle cx="121.90" cy="341.02" r="1.0"/><circle cx="124.00" cy="341.86" r="1.0"/><circle cx="126.10" cy="342.70" r="1.0"/><circle cx="128.20" cy="341.86" r="1.0"/><circle cx="130.30" cy="341.02" r="1.0"/><circle cx="126.10" cy="301.30" r="1.0"/><circle cx="121.90" cy="308.82" r="1.0"/><circle cx="124.00" cy="309.66" r="1.0"/><circle cx="126.10" cy="310.50" r="1.0"/><circle cx="128.20" cy="309.66" r="1.0"/><circle cx="130.30" cy="308.82" r="1.0"/><circle cx="124.00" cy="339.56" r="1.0"/><circle cx="126.10" cy="340.40" r="1.0"/><circle cx="128.20" cy="339.56" r="1.0"/><circle cx="126.10" cy="345.00" r="1.0"/><circle cx="126.10" cy="287.50" r="1.0"/><circle cx="126.10" cy="292.10" r="1.0"/><circle cx="126.10" cy="349.60" r="1.0"/></g>
<g fill="#036b0e"><circle cx="144.50" cy="288.00" r="1.5"/><circle cx="144.50" cy="297.60" r="1.5"/><circle cx="141.30" cy="299.84" r="1.5"/><circle cx="144.50" cy="300.80" r="1.5"/><circle cx="147.70" cy="299.84" r="1.5"/><circle cx="142.90" cy="303.52" r="1.5"/><circle cx="146.10" cy="303.52" r="1.5"/><circle cx="144.50" cy="310.40" r="1.5"/><circle cx="144.50" cy="313.60" r="1.5"/><circle cx="142.90" cy="329.12" r="1.5"/><circle cx="146.10" cy="329.12" r="1.5"/><circle cx="141.30" cy="322.24" r="1.5"/><circle cx="144.50" cy="323.20" r="1.5"/><circle cx="147.70" cy="322.24" r="1.5"/><circle cx="142.90" cy="319.52" r="1.5"/><circle cx="146.10" cy="319.52" r="1.5"/><circle cx="141.30" cy="325.44" r="1.5"/><circle cx="144.50" cy="326.40" r="1.5"/><circle cx="147.70" cy="325.44" r="1.5"/><circle cx="142.90" cy="316.32" r="1.5"/><circle cx="146.10" cy="316.32" r="1.5"/><circle cx="138.10" cy="336.48" r="1.5"/><circle cx="141.30" cy="337.44" r="1.5"/><circle cx="144.50" cy="338.40" r="1.5"/><circle cx="147.70" cy="337.44" r="1.5"/><circle cx="150.90" cy="336.48" r="1.5"/><circle cx="144.50" cy="340.00" r="1.5"/><circle cx="138.10" cy="333.28" r="1.5"/><circle cx="141.30" cy="334.24" r="1.5"/><circle cx="144.50" cy="335.20" r="1.5"/><circle cx="147.70" cy="334.24" r="1.5"/><circle cx="150.90" cy="333.28" r="1.5"/><circle cx="139.70" cy="335.36" r="1.5"/><circle cx="142.90" cy="336.32" r="1.5"/><circle cx="146.10" cy="336.32" r="1.5"/><circle cx="149.30" cy="335.36" r="1.5"/><circle cx="142.90" cy="348.32" r="1.5"/><circle cx="146.10" cy="348.32" r="1.5"/><circle cx="141.30" cy="344.64" r="1.5"/><circle cx="144.50" cy="345.60" r="1.5"/><circle cx="147.70" cy="344.64" r="1.5"/><circle cx="141.30" cy="341.44" r="1.5"/><circle cx="144.50" cy="342.40" r="1.5"/><circle cx="147.70" cy="341.44" r="1.5"/><circle cx="144.50" cy="352.00" r="1.5"/><circle cx="144.50" cy="358.40" r="1.5"/></g>
<path d="M138.0,326.84 H151.0 M144.5,312.34 V341.35 M141.0,312.34 H148.0 M141.0,341.35 H148.0" stroke="#036b0e" stroke-width="1.2" fill="none"/>
<g fill="#6f6ffc"><circle cx="157.10" cy="325.23" r="1.4"/><circle cx="160.00" cy="326.10" r="1.4"/><circle cx="162.90" cy="326.97" r="1.4"/><circle cx="165.80" cy="326.10" r="1.4"/><circle cx="168.70" cy="325.23" r="1.4"/><circle cx="161.45" cy="327.99" r="1.4"/><circle cx="164.35" cy="327.99" r="1.4"/><circle cx="157.10" cy="319.19" r="1.4"/><circle cx="160.00" cy="320.06" r="1.4"/><circle cx="162.90" cy="320.93" r="1.4"/><circle cx="165.80" cy="320.06" r="1.4"/><circle cx="168.70" cy="319.19" r="1.4"/><circle cx="157.10" cy="320.16" r="1.4"/><circle cx="160.00" cy="321.03" r="1.4"/><circle cx="162.90" cy="321.90" r="1.4"/><circle cx="165.80" cy="321.03" r="1.4"/><circle cx="168.70" cy="320.16" r="1.4"/><circle cx="161.45" cy="322.43" r="1.4"/><circle cx="164.35" cy="322.43" r="1.4"/><circle cx="157.10" cy="328.13" r="1.4"/><circle cx="160.00" cy="329.00" r="1.4"/><circle cx="162.90" cy="329.87" r="1.4"/><circle cx="165.80" cy="329.00" r="1.4"/><circle cx="168.70" cy="328.13" r="1.4"/><circle cx="160.00" cy="330.45" r="1.4"/><circle cx="162.90" cy="331.32" r="1.4"/><circle cx="165.80" cy="330.45" r="1.4"/><circle cx="157.10" cy="331.03" r="1.4"/><circle cx="160.00" cy="331.90" r="1.4"/><circle cx="162.90" cy="332.77" r="1.4"/><circle cx="165.80" cy="331.90" r="1.4"/><circle cx="168.70" cy="331.03" r="1.4"/><circle cx="161.45" cy="333.79" r="1.4"/><circle cx="164.35" cy="333.79" r="1.4"/><circle cx="157.10" cy="314.36" r="1.4"/><circle cx="160.00" cy="315.23" r="1.4"/><circle cx="162.90" cy="316.10" r="1.4"/><circle cx="165.80" cy="315.23" r="1.4"/><circle cx="168.70" cy="314.36" r="1.4"/><circle cx="157.10" cy="322.33" r="1.4"/><circle cx="160.00" cy="323.20" r="1.4"/><circle cx="162.90" cy="324.07" r="1.4"/><circle cx="165.80" cy="323.20" r="1.4"/><circle cx="168.70" cy="322.33" r="1.4"/><circle cx="161.45" cy="325.09" r="1.4"/><circle cx="164.35" cy="325.09" r="1.4"/><circle cx="160.00" cy="341.33" r="1.4"/><circle cx="162.90" cy="342.20" r="1.4"/><circle cx="165.80" cy="341.33" r="1.4"/><circle cx="160.00" cy="318.13" r="1.4"/><circle cx="162.90" cy="319.00" r="1.4"/><circle cx="165.80" cy="318.13" r="1.4"/><circle cx="162.90" cy="310.30" r="1.4"/><circle cx="161.45" cy="338.87" r="1.4"/><circle cx="164.35" cy="338.87" r="1.4"/><circle cx="162.90" cy="345.10" r="1.4"/><circle cx="161.45" cy="301.16" r="1.4"/><circle cx="164.35" cy="301.16" r="1.4"/><circle cx="162.90" cy="304.50" r="1.4"/><circle cx="162.90" cy="307.40" r="1.4"/></g>
<path d="M156.39999999999998,326.01 H169.39999999999998 M162.89999999999998,317.73 V334.30 M159.39999999999998,317.73 H166.39999999999998 M159.39999999999998,334.30 H166.39999999999998" stroke="#6f6ffc" stroke-width="1.2" fill="none"/>
<path d="M52.1,286.2 V284.4 H89.3 V286.2 M69.9,286 V278.7 H126 V281" stroke="#000" stroke-width="1.1" fill="none"/>
<g fill="#000"><ellipse cx="57.50" cy="281.2" rx="1.05" ry="0.9"/><ellipse cx="60.60" cy="281.2" rx="1.05" ry="0.9"/><ellipse cx="63.70" cy="281.2" rx="1.05" ry="0.9"/></g>
<g fill="#000"><ellipse cx="76.70" cy="281.2" rx="1.05" ry="0.9"/><ellipse cx="79.80" cy="281.2" rx="1.05" ry="0.9"/><ellipse cx="82.90" cy="281.2" rx="1.05" ry="0.9"/></g>
<g fill="#000"><ellipse cx="95.30" cy="276.1" rx="1.05" ry="0.9"/><ellipse cx="98.40" cy="276.1" rx="1.05" ry="0.9"/><ellipse cx="101.50" cy="276.1" rx="1.05" ry="0.9"/></g>
<text x="197.3" y="266.5" font-size="12.4" fill="#000" stroke="#000" stroke-width="0.18" font-weight="bold" font-style="normal" text-anchor="start" >E</text>
<path d="M231.4,270.2 V394 H314" stroke="#000" stroke-width="1.3" fill="none"/>
<path d="M227.8,270.40 H231.4" stroke="#000" stroke-width="1.1"/>
<text x="226.2" y="273.1" font-size="7.6" fill="#000" stroke="#000" stroke-width="0.18" font-weight="normal" font-style="normal" text-anchor="end" >6</text>
<path d="M227.8,301.30 H231.4" stroke="#000" stroke-width="1.1"/>
<text x="226.2" y="304.0" font-size="7.6" fill="#000" stroke="#000" stroke-width="0.18" font-weight="normal" font-style="normal" text-anchor="end" >4</text>
<path d="M227.8,332.20 H231.4" stroke="#000" stroke-width="1.1"/>
<text x="226.2" y="334.90000000000003" font-size="7.6" fill="#000" stroke="#000" stroke-width="0.18" font-weight="normal" font-style="normal" text-anchor="end" >2</text>
<path d="M227.8,363.10 H231.4" stroke="#000" stroke-width="1.1"/>
<text x="226.2" y="365.8" font-size="7.6" fill="#000" stroke="#000" stroke-width="0.18" font-weight="normal" font-style="normal" text-anchor="end" >0</text>
<path d="M227.8,394.00 H231.4" stroke="#000" stroke-width="1.1"/>
<text x="226.2" y="396.7" font-size="7.6" fill="#000" stroke="#000" stroke-width="0.18" font-weight="normal" font-style="normal" text-anchor="end" >&#8722;2</text>
<path d="M251.8,394 V396.6" stroke="#000" stroke-width="1.1"/>
<path d="M293.1,394 V396.6" stroke="#000" stroke-width="1.1"/>
<text transform="translate(212.4,370.0) rotate(-90) scale(0.692,1)" font-size="9.8" fill="#000" stroke="#000" stroke-width="0.15"><tspan font-style="italic">MEF2D</tspan> expression (log<tspan font-size="6.2" dy="2.0">2</tspan><tspan dy="-2.0">)</tspan></text>
<path d="M247.5,284.3 V280.8 H294.2 V284.3" stroke="#000" stroke-width="1.1" fill="none"/>
<g fill="#000"><ellipse cx="267.80" cy="276.6" rx="1.05" ry="0.9"/><ellipse cx="270.90" cy="276.6" rx="1.05" ry="0.9"/><ellipse cx="274.00" cy="276.6" rx="1.05" ry="0.9"/></g>
<path d="M238,364.8 H266 M251.9,360.8 V368.7 M244.8,360.8 H258.6 M244.8,368.7 H258.6" stroke="#c5021a" stroke-width="1.2" fill="none"/>
<g fill="#c5021a"><circle cx="251.9" cy="349.8" r="1.8"/><circle cx="248.3" cy="361.8" r="1.8"/><circle cx="255.2" cy="362.4" r="1.8"/><circle cx="248.3" cy="368" r="1.8"/><circle cx="255.2" cy="369.3" r="1.8"/><circle cx="251.9" cy="377.2" r="1.8"/></g>
<path d="M279.5,321.6 H307 M293,315.6 V327.7 M286.2,315.6 H300 M286.2,327.7 H300" stroke="#0b30b0" stroke-width="1.2" fill="none"/>
<g fill="#0b30b0"><rect x="291.25" y="294.15" width="3.5" height="3.5"/><rect x="291.25" y="306.55" width="3.5" height="3.5"/><rect x="291.25" y="317.75" width="3.5" height="3.5"/><rect x="291.25" y="322.45" width="3.5" height="3.5"/><rect x="287.55" y="326.95" width="3.5" height="3.5"/><rect x="294.75" y="328.05" width="3.5" height="3.5"/><rect x="291.25" y="343.05" width="3.5" height="3.5"/></g>
<text x="252.0" y="406.6" font-size="8.5" fill="#c5021a" stroke="#c5021a" stroke-width="0.18" font-weight="normal" font-style="normal" text-anchor="middle" lengthAdjust="spacingAndGlyphs" textLength="23.9">Normal</text>
<text x="252.1" y="416.4" font-size="8.5" fill="#c5021a" stroke="#c5021a" stroke-width="0.18" font-weight="normal" font-style="normal" text-anchor="middle" lengthAdjust="spacingAndGlyphs" textLength="27">CD34+</text>
<text x="292.4" y="406.6" font-size="8.5" fill="#0b30b0" stroke="#0b30b0" stroke-width="0.18" font-weight="normal" font-style="normal" text-anchor="middle" lengthAdjust="spacingAndGlyphs" textLength="19.5">MLL-r</text>
<text x="292.8" y="416.4" font-size="8.5" fill="#0b30b0" stroke="#0b30b0" stroke-width="0.18" font-weight="normal" font-style="normal" text-anchor="middle" lengthAdjust="spacingAndGlyphs" textLength="15.9">AML</text>
<text x="339.2" y="266.0" font-size="12.4" fill="#000" stroke="#000" stroke-width="0.18" font-weight="bold" font-style="normal" text-anchor="start" >F</text>
<text x="441.5" y="263.9" font-size="9.5" fill="#000" stroke="#000" stroke-width="0.18" font-weight="normal" font-style="normal" text-anchor="middle" >TCGA AML</text>
<path d="M380.3,263.5 V391.1 H503.4" stroke="#000" stroke-width="1.3" fill="none"/>
<path d="M376.8,391.10 H380.3" stroke="#000" stroke-width="1.1"/>
<text x="373.6" y="393.8" font-size="7.6" fill="#000" stroke="#000" stroke-width="0.18" font-weight="normal" font-style="normal" text-anchor="end" letter-spacing="0.35">0</text>
<path d="M376.8,333.33 H380.3" stroke="#000" stroke-width="1.1"/>
<text x="373.6" y="336.02500000000003" font-size="7.6" fill="#000" stroke="#000" stroke-width="0.18" font-weight="normal" font-style="normal" text-anchor="end" letter-spacing="0.35">50</text>
<path d="M376.8,275.55 H380.3" stroke="#000" stroke-width="1.1"/>
<text x="373.6" y="278.25" font-size="7.6" fill="#000" stroke="#000" stroke-width="0.18" font-weight="normal" font-style="normal" text-anchor="end" letter-spacing="0.35">100</text>
<path d="M380.30,391.1 V394.2" stroke="#000" stroke-width="1.1"/>
<text x="380.5" y="403.1" font-size="7.6" fill="#000" stroke="#000" stroke-width="0.18" font-weight="normal" font-style="normal" text-anchor="middle" letter-spacing="0.35">0</text>
<path d="M421.45,391.1 V394.2" stroke="#000" stroke-width="1.1"/>
<text x="421.65" y="403.1" font-size="7.6" fill="#000" stroke="#000" stroke-width="0.18" font-weight="normal" font-style="normal" text-anchor="middle" letter-spacing="0.35">1000</text>
<path d="M462.60,391.1 V394.2" stroke="#000" stroke-width="1.1"/>
<text x="462.8" y="403.1" font-size="7.6" fill="#000" stroke="#000" stroke-width="0.18" font-weight="normal" font-style="normal" text-anchor="middle" letter-spacing="0.35">2000</text>
<path d="M503.75,391.1 V394.2" stroke="#000" stroke-width="1.1"/>
<text x="503.95" y="403.1" font-size="7.6" fill="#000" stroke="#000" stroke-width="0.18" font-weight="normal" font-style="normal" text-anchor="middle" letter-spacing="0.35">3000</text>
<text transform="translate(442.2,414.0) scale(0.672,1)" font-size="9.4" fill="#000" stroke="#000" stroke-width="0.15" text-anchor="middle">Days</text>
<text transform="translate(354.3,328.2) rotate(-90) scale(0.787,1)" font-size="9.4" fill="#000" stroke="#000" stroke-width="0.15" text-anchor="middle">Percent survival</text>
<text x="405.0" y="297.9" font-size="8.2" fill="#000" stroke="#000" stroke-width="0.18" font-weight="normal" font-style="normal" text-anchor="start" >Log-rank <tspan font-style="italic">p</tspan> = 0.0067</text>
<path d="M380.3,275.3 H381 V280 H382.5 V283 H383.5 V285 H385 V287 H386 V289.5 H387 V293 H388 V297 H389 V302 H390 V307 H391 V312 H392 V316 H393 V320 H394 V323 H395.5 V327 H397 V331 H398.5 V334 H400 V336.5 H401.5 V339 H403 V341 H404.5 V343.5 H406 V345.5 H407.5 V347.5 H409 V349.5 H410.5 V351 H412 V353 H413.5 V355 H414.5 V358.5 H414.6 V360.2 L419,360.2 L419,361.5 L438.5,361.5 L438.5,366.4 L449.8,366.4 L449.8,372.1 L474.4,372.1" stroke="#0b30b0" stroke-width="1.5" fill="none"/>
<path d="M380.3,275.3 H380.5 V283.5 L382,283.5 L382,286.3 L384,286.3 L384,287.5 L386,287.5 L386,292.2 L392,292.2 L392,294 L392.8,294 L392.8,300.4 L399.3,300.4 L399.3,302.4 L400.3,302.4 L400.3,310.9 L402,310.9 L402,313.4 L409.5,313.4 L409.5,316.4 L410.6,316.4 L410.6,320.5 L412,320.5 L412,324 L413,324 L413,328.3 L414.4,328.3 L414.4,331.5 L416.4,331.5 L416.4,335.5 L418.5,335.5 L418.5,339 L437.7,339 L437.7,342.5 L447.4,342.5 L447.4,350 L498.2,350" stroke="#c5021a" stroke-width="1.5" fill="none"/>
<path d="M428,339 v-2 M430,339 v-2 M432,339 v-2 M441,342.5 v-2 M443,342.5 v-2 M452.3,350 v-2 M455,350 v-2 M457,350 v-2 M471,350 v-2 M482,350 v-2 M497.5,350 v-2" stroke="#c5021a" stroke-width="1"/>
<path d="M421,361.5 v-2 M424,361.5 v-2 M426,361.5 v-2 M428,361.5 v-2 M431,361.5 v-2 M434,361.5 v-2 M441,366.4 v-2 M444,366.4 v-2 M447,366.4 v-2 M453,372.1 v-2 M456,372.1 v-2 M460,372.1 v-2 M465,372.1 v-2 M470,372.1 v-2 M474,372.1 v-2" stroke="#0b30b0" stroke-width="1"/>
<text x="466.8" y="344.4" font-size="7.6" fill="#c5021a" stroke="#c5021a" stroke-width="0.18" font-weight="normal" font-style="normal" text-anchor="start" >MEF2D<tspan font-size="4.2" dy="-2.8">low</tspan></text>
<text x="457.2" y="384.8" font-size="7.6" fill="#0b30b0" stroke="#0b30b0" stroke-width="0.18" font-weight="normal" font-style="normal" text-anchor="start" >MEF2D<tspan font-size="4.2" dy="-2.8">med/high</tspan></text>
</svg>
</body></html>
